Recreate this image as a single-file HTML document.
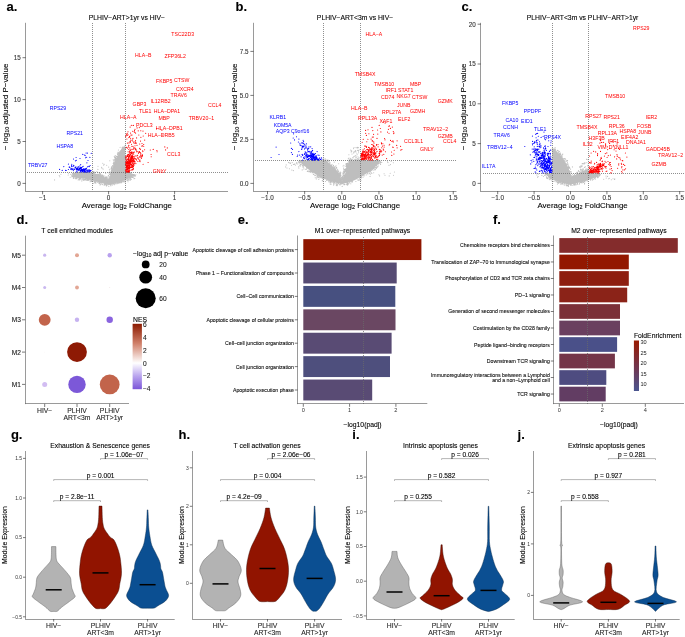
<!DOCTYPE html><html><head><meta charset="utf-8"><style>html,body{margin:0;padding:0;background:#fff;}svg{display:block;} text{stroke-width:0.1px;} svg{font-family:"Liberation Sans",sans-serif;will-change:transform;}</style></head><body><svg width="685" height="637" viewBox="0 0 685 637" font-family="Liberation Sans, sans-serif">
<rect width="685" height="637" fill="#fff"/>
<path d="M108.5 184.0 L110.0 178.0 L110.7 172.0 L113.0 167.0 L115.5 160.0 L118.0 155.0 L121.0 150.0 L123.0 147.5 L125.1 146.5 L125.1 172.5 L130.0 173.0 L134.0 175.0 L131.0 177.5 L125.0 180.0 L118.0 182.5 L110.0 184.5Z" fill="#bebebe"/>
<path d="M120.5 153.3h0M109.2 176.4h0M109.7 178.1h0M125.3 148.6h0M113.2 159.8h0M122.9 166.7h0M110.2 178.6h0M112.6 169.9h0M127.5 180.4h0M124.2 172.5h0M110.7 177.8h0M127.8 173.2h0M124.3 166.2h0M128.8 177.6h0M123.1 164.5h0M132.6 177.4h0M109.3 172.7h0M112.0 168.6h0M120.5 182.8h0M124.1 166.4h0M125.7 179.8h0M128.3 173.3h0M127.0 172.4h0M116.5 156.7h0M108.5 181.8h0M112.3 172.5h0M111.3 171.7h0M122.4 181.8h0M122.0 182.0h0M123.6 147.4h0M112.5 169.3h0M114.0 160.7h0M117.6 157.8h0M120.1 147.2h0M128.2 172.8h0M130.1 173.5h0M131.7 176.5h0M124.0 147.1h0M114.9 163.8h0M110.4 178.6h0M110.4 173.7h0M120.8 181.0h0M115.6 159.6h0M112.8 168.8h0M124.7 153.4h0M110.1 174.1h0M125.8 179.9h0M112.9 183.5h0M111.7 183.2h0M116.1 158.4h0M129.5 177.0h0M120.3 153.4h0M111.1 183.1h0M126.7 178.6h0M125.0 159.0h0M109.1 181.9h0M130.8 172.7h0M117.4 183.1h0M122.2 149.3h0M114.4 165.6h0M119.2 181.3h0M132.3 176.0h0M128.6 179.7h0M110.6 184.8h0M113.8 182.9h0M112.4 172.7h0M129.0 180.3h0M110.0 183.6h0M125.2 162.2h0M110.7 183.2h0M113.4 184.0h0M126.1 180.3h0M118.1 156.3h0M116.0 158.4h0M117.0 183.5h0M115.6 182.8h0M115.3 165.6h0M111.5 166.9h0M124.5 164.0h0M125.2 162.3h0M125.1 164.1h0M129.9 177.3h0M133.1 176.0h0M123.9 168.8h0M128.6 173.3h0M121.7 181.2h0M112.4 170.8h0M110.2 177.0h0M112.1 166.9h0M113.8 167.7h0M115.8 161.7h0M111.6 168.2h0M120.8 151.6h0M133.9 174.5h0M124.7 170.0h0M110.6 181.9h0M110.5 173.5h0M130.5 178.2h0M117.7 160.0h0M125.0 164.0h0M109.6 177.2h0M111.5 176.0h0M130.0 179.6h0M110.8 176.3h0M118.4 150.0h0M117.7 158.2h0M115.9 160.5h0M110.0 179.7h0M118.7 153.0h0M109.0 182.3h0M133.0 174.6h0M125.6 179.8h0M124.2 180.7h0M130.2 172.8h0M125.0 178.5h0M124.9 147.2h0M112.8 171.4h0M116.5 158.8h0M125.5 179.1h0M117.5 156.8h0M119.2 157.1h0M125.2 164.5h0M118.9 153.5h0M122.2 147.5h0M114.0 163.8h0M117.5 158.2h0M110.4 179.9h0M114.2 160.0h0M132.0 174.6h0M120.0 182.1h0M111.0 185.8h0M126.9 172.6h0M118.3 180.8h0M128.1 180.0h0M124.1 178.6h0M128.5 172.2h0M109.9 181.5h0M111.2 172.1h0M124.0 169.3h0M131.8 175.7h0M127.8 173.3h0M116.8 159.1h0M133.7 176.2h0M110.0 184.3h0M124.4 153.2h0M124.8 169.0h0M112.0 170.7h0M118.5 153.9h0M109.8 179.3h0M129.4 172.2h0M124.0 159.0h0M111.3 171.4h0M110.9 184.3h0M125.0 152.3h0M114.3 184.8h0M109.4 169.2h0M111.9 169.4h0M119.7 181.1h0M118.7 182.2h0M107.5 183.7h0M119.1 154.8h0M119.3 152.8h0M133.2 175.5h0M115.5 180.9h0M117.2 156.0h0M107.8 183.5h0M125.1 149.7h0M110.9 172.8h0M115.0 184.0h0M114.3 182.6h0M125.0 161.8h0M132.0 175.3h0M125.0 172.5h0M116.7 183.8h0M120.3 151.9h0M110.8 185.7h0M117.5 153.9h0M113.3 167.7h0M117.4 182.5h0M119.1 182.5h0M111.9 170.2h0M121.3 150.9h0M114.5 157.3h0M132.1 176.4h0M124.5 160.2h0M109.6 180.2h0M109.7 171.0h0M122.5 181.7h0M115.1 159.8h0M114.3 182.1h0M110.6 182.1h0M117.8 182.3h0M106.7 185.4h0M127.6 177.5h0M116.4 159.5h0M124.1 157.2h0M131.5 172.9h0M124.8 152.4h0M130.4 180.1h0M124.9 172.8h0M115.1 157.6h0M111.8 173.0h0M124.6 166.2h0M119.5 181.8h0M117.4 158.9h0M120.0 153.8h0M127.2 173.2h0M127.8 172.4h0M108.8 181.4h0M129.3 174.6h0M133.1 175.1h0M110.8 185.8h0M115.5 162.5h0M119.3 154.4h0M113.8 166.2h0M127.5 172.5h0M125.1 149.4h0M112.2 169.7h0M135.9 174.8h0M120.9 153.8h0M134.7 175.9h0M122.4 148.1h0M113.8 166.9h0M121.7 149.6h0M112.4 184.9h0M126.9 178.5h0M108.8 179.1h0M117.0 183.7h0M120.0 182.4h0M127.4 178.7h0M111.5 181.3h0M116.3 156.2h0M120.2 153.3h0M125.0 170.9h0M119.3 152.9h0M133.7 175.5h0M115.0 183.5h0M123.8 148.2h0M128.1 176.8h0M130.4 176.9h0M118.3 153.9h0M110.8 177.5h0M116.1 159.3h0M123.8 165.0h0M121.1 181.6h0M111.3 176.0h0M130.8 174.0h0M124.0 147.2h0M134.0 174.5h0M111.4 170.8h0M124.0 165.2h0M114.1 164.7h0M113.3 167.6h0M117.4 153.8h0M125.3 159.6h0M126.2 172.5h0M118.0 182.9h0M111.8 174.2h0M121.3 181.3h0M131.1 177.5h0M124.6 166.6h0M122.8 148.8h0M115.1 157.7h0M115.1 163.6h0M128.7 173.6h0M114.6 162.3h0M110.9 178.1h0M124.8 161.9h0M112.4 166.5h0M116.7 158.2h0M118.2 152.8h0M122.6 150.2h0M116.4 163.6h0M119.8 181.8h0M107.5 182.0h0M118.9 183.3h0M122.0 148.1h0M115.3 155.6h0M108.8 172.9h0M112.0 184.5h0M115.4 183.3h0M110.7 178.1h0M116.9 181.1h0M112.8 167.1h0M113.7 166.6h0M124.7 159.2h0M115.5 157.2h0M108.0 179.2h0M109.7 179.7h0M123.8 167.0h0M117.6 154.4h0M124.5 148.3h0M125.3 157.6h0M129.8 177.9h0M110.1 173.8h0M123.5 147.4h0M124.5 180.7h0M128.0 181.8h0M113.4 165.1h0M109.1 178.7h0M113.2 167.5h0M127.7 180.1h0M116.8 183.6h0M125.0 157.9h0M114.7 167.7h0M128.9 172.5h0M130.9 178.8h0M123.8 172.9h0M123.3 161.8h0M112.0 173.2h0M124.7 146.0h0M108.6 183.9h0M131.2 177.1h0M135.2 176.0h0M114.3 156.4h0M124.7 165.3h0M109.1 183.9h0M124.0 169.7h0M119.6 182.6h0M125.7 172.6h0M122.2 150.0h0M113.8 160.8h0M113.5 162.7h0M112.2 169.9h0M113.3 169.6h0M121.7 180.3h0M118.1 157.8h0M124.3 164.7h0M116.2 159.0h0M124.5 160.7h0M110.0 177.9h0M113.2 163.2h0M125.3 171.3h0M118.8 153.8h0M120.0 180.3h0M109.6 182.0h0M125.0 152.2h0M115.6 161.8h0M108.6 181.5h0M115.7 157.1h0M128.8 178.0h0M121.4 181.6h0M115.3 157.9h0M132.3 177.4h0M120.1 153.9h0M124.6 169.3h0M108.7 184.7h0M131.0 172.3h0M132.1 174.1h0M114.2 162.4h0M117.7 182.8h0M111.4 172.6h0M112.1 169.6h0M135.2 175.5h0M122.8 147.0h0M121.4 182.8h0M117.6 182.5h0M114.5 163.5h0M124.4 179.1h0M125.5 179.0h0M111.9 174.7h0M113.8 164.3h0M109.0 182.7h0M131.4 174.7h0M110.2 183.9h0M125.2 149.4h0M130.3 173.3h0M123.9 181.9h0M113.7 166.8h0M132.1 176.7h0M123.3 156.1h0M112.6 165.5h0M125.2 182.2h0M117.9 157.3h0M110.6 174.2h0M129.1 177.3h0M123.4 147.9h0M110.5 175.0h0M114.2 165.4h0M123.6 158.5h0M114.1 160.9h0M132.6 174.7h0M120.8 150.5h0M123.4 178.9h0M111.4 167.5h0M120.2 182.4h0M117.9 152.3h0M112.8 169.0h0M119.3 151.8h0M120.9 154.3h0M135.3 176.1h0M108.4 175.4h0M128.9 177.3h0M113.7 163.9h0M114.1 163.4h0M125.4 145.1h0M124.3 156.2h0M111.0 168.9h0M134.6 174.7h0M125.1 163.7h0M114.8 159.0h0M130.4 175.6h0M118.8 152.8h0M125.1 171.7h0M124.4 151.6h0M128.6 172.5h0M125.4 155.9h0M114.1 183.3h0M123.6 164.4h0M123.9 156.8h0M123.0 160.6h0M114.1 162.0h0M134.0 178.7h0M122.3 149.7h0M124.8 147.7h0M117.0 159.2h0M113.9 183.2h0M127.8 179.0h0M111.6 169.0h0M123.8 171.3h0M115.9 161.1h0M124.8 154.8h0M111.6 170.3h0M123.4 181.5h0M115.6 158.9h0M108.4 182.9h0M115.4 160.5h0M124.1 148.3h0M123.7 148.0h0M111.0 176.3h0M131.2 179.4h0M125.3 171.0h0M113.0 183.0h0M111.0 174.1h0M130.5 178.1h0M118.4 181.8h0M118.2 180.9h0M125.2 181.6h0M125.0 159.1h0M119.6 181.4h0M116.1 161.4h0M109.4 178.2h0M123.9 156.1h0M124.2 181.0h0M123.7 153.0h0M123.8 180.9h0" stroke="#bebebe" stroke-width="1.1" stroke-linecap="round" fill="none" opacity="1.0"/>
<path d="M108.5 184.5 L100.0 182.5 L92.0 180.0 L84.0 178.5 L76.0 177.5 L72.0 176.5 L73.0 174.0 L78.0 172.8 L92.0 172.8 L100.0 175.0 L106.0 178.0 L109.0 180.0Z" fill="#bebebe"/>
<path d="M110.1 181.9h0M86.5 173.0h0M89.8 172.4h0M107.5 182.9h0M107.3 178.2h0M83.2 174.5h0M77.9 178.1h0M96.3 175.0h0M72.8 176.5h0M85.6 177.8h0M74.2 174.9h0M107.7 181.0h0M81.7 179.0h0M104.9 181.7h0M78.5 173.1h0M108.8 186.5h0M105.5 177.5h0M89.2 174.2h0M72.1 175.8h0M95.8 181.0h0M106.3 177.8h0M100.5 173.8h0M87.6 180.2h0M81.7 179.0h0M109.5 179.9h0M106.7 185.0h0M81.1 172.3h0M106.4 185.1h0M109.6 179.5h0M76.5 178.2h0M91.7 180.1h0M107.9 183.9h0M110.5 182.8h0M99.8 182.1h0M89.1 178.8h0M104.7 182.0h0M102.6 175.9h0M108.1 182.0h0M92.0 172.8h0M86.5 172.4h0M83.5 177.9h0M102.7 176.5h0M78.0 177.4h0M89.6 174.2h0M78.5 176.8h0M73.6 178.4h0M109.3 178.7h0M87.6 179.7h0M84.5 172.5h0M81.9 173.8h0M103.9 178.6h0M86.7 178.9h0M73.0 176.2h0M106.8 178.0h0M100.2 173.9h0M87.7 177.5h0M89.9 172.3h0M100.0 182.3h0M92.6 177.9h0M88.7 178.7h0M72.5 176.4h0M94.8 172.4h0M102.1 181.2h0M88.1 178.6h0M103.7 177.2h0M81.5 173.4h0M93.8 179.8h0M78.3 173.5h0M99.9 182.4h0M79.6 178.7h0M98.2 175.4h0M80.6 178.1h0M107.8 183.7h0M72.3 173.7h0M94.6 175.2h0M96.9 171.5h0M88.9 179.5h0M94.4 180.8h0M109.3 180.0h0M81.6 173.1h0M108.8 182.5h0M87.0 172.4h0M76.4 177.8h0M109.5 181.7h0M105.4 184.7h0M107.7 177.0h0M105.1 182.1h0M86.4 172.8h0M97.0 179.2h0M88.1 174.1h0M95.8 174.2h0M88.8 180.1h0M95.1 181.5h0M90.2 172.9h0M95.2 180.8h0M92.8 179.0h0M105.8 178.4h0M102.5 181.8h0M83.6 173.1h0M98.8 175.3h0M97.2 181.9h0M91.0 172.6h0M103.6 177.9h0M95.8 183.2h0M82.3 179.2h0M83.5 178.1h0M110.7 183.5h0M88.1 173.9h0M85.6 179.5h0M82.8 177.7h0M108.3 179.6h0M107.1 178.4h0M85.2 178.7h0M98.7 175.2h0M108.9 183.4h0M91.7 181.4h0M90.6 179.6h0M94.4 179.1h0M93.2 180.5h0M82.1 172.8h0M90.9 179.0h0M98.8 174.5h0M103.1 182.2h0M93.9 173.5h0M82.7 176.5h0M75.7 174.1h0M73.2 174.2h0M94.2 179.7h0M94.5 182.1h0M107.0 184.3h0M76.4 174.5h0M100.3 174.3h0M90.1 173.9h0M105.3 181.6h0M72.4 173.7h0M79.6 173.4h0M90.9 180.2h0M88.6 179.1h0M100.6 182.1h0M106.0 183.4h0M75.7 172.9h0M103.6 176.5h0M97.5 182.1h0M86.9 179.6h0M95.9 180.7h0M95.3 180.8h0M96.5 179.0h0M75.6 178.6h0M74.2 174.7h0M96.2 174.7h0M79.1 179.3h0M100.3 173.7h0M103.2 176.4h0M109.6 180.7h0M73.9 176.4h0M77.5 173.6h0M75.0 173.7h0M109.2 179.7h0M106.2 177.7h0M86.9 178.4h0M78.7 172.3h0M87.5 179.2h0M108.7 181.3h0M87.1 173.7h0M108.1 180.8h0M71.8 175.5h0M99.2 182.7h0M75.6 178.2h0M99.6 182.3h0M92.2 179.1h0M83.7 179.2h0M74.1 174.4h0M106.4 185.9h0M88.4 179.1h0M86.6 178.8h0M96.4 174.3h0M103.5 177.0h0M75.8 178.3h0M100.1 184.9h0M94.1 174.0h0M79.6 176.8h0M102.7 175.0h0M93.5 171.5h0M73.0 173.4h0M108.3 180.1h0M108.3 183.1h0M75.1 173.5h0M75.3 175.2h0M82.0 173.6h0M72.0 175.4h0M76.2 177.3h0M83.2 176.4h0M73.4 174.0h0M85.0 179.6h0M82.6 174.0h0M83.6 176.7h0M109.2 182.1h0M106.9 178.4h0M77.0 172.8h0M92.8 173.1h0M73.9 173.2h0M76.4 178.7h0M81.8 177.6h0M76.9 173.8h0M75.1 177.0h0M105.5 177.0h0M70.8 174.4h0M79.2 177.8h0M93.8 183.4h0M100.0 175.2h0M104.8 176.0h0M109.4 183.0h0M95.7 182.4h0M74.7 174.2h0M83.9 172.2h0M108.4 183.8h0M75.6 176.5h0M90.5 172.8h0M100.4 175.1h0M91.6 180.3h0M86.5 178.1h0M107.6 183.8h0M99.7 183.5h0M100.4 182.8h0M99.1 174.8h0M95.4 175.3h0M80.5 178.7h0M101.6 181.9h0M79.6 178.4h0M105.1 182.6h0M107.6 181.7h0M90.8 180.0h0M101.7 178.2h0M99.2 176.2h0M106.4 181.3h0M87.9 180.5h0M90.1 181.7h0M73.1 173.5h0M94.3 181.3h0M108.4 183.4h0M98.3 182.1h0M76.6 177.7h0M100.0 175.8h0M93.1 181.1h0M105.2 183.1h0M96.0 180.8h0M87.2 178.6h0M73.8 175.2h0M94.8 182.5h0M78.9 177.6h0M108.2 180.5h0M73.2 177.7h0M88.8 178.4h0M79.0 179.2h0M92.0 179.6h0M74.3 173.3h0M95.1 174.9h0M79.1 173.7h0M102.5 184.6h0M82.6 177.9h0M78.3 173.7h0M85.6 179.0h0M91.6 180.8h0M84.2 180.1h0M97.9 172.7h0M97.9 182.1h0M74.5 176.0h0M89.2 178.6h0M84.8 173.2h0M106.6 176.9h0M105.8 183.9h0M92.4 181.2h0M104.8 185.1h0M94.9 179.6h0M91.8 173.9h0M89.1 172.8h0M101.2 174.7h0M105.9 182.6h0M104.7 184.1h0M98.3 176.5h0M95.7 174.3h0M76.8 175.7h0M88.1 180.2h0M75.8 176.5h0M94.2 172.0h0M73.6 177.0h0M71.8 176.8h0M98.3 181.7h0M79.2 172.6h0M77.6 173.3h0M79.2 178.3h0M84.7 179.6h0M88.0 173.5h0M73.1 174.2h0M79.7 180.0h0M96.3 181.3h0M98.0 174.4h0M94.3 179.8h0M72.4 174.1h0M99.1 183.2h0M92.9 180.3h0M92.5 179.2h0M98.9 183.3h0M79.6 178.3h0M109.3 184.2h0M101.2 180.2h0M80.1 173.5h0M74.1 178.1h0M109.1 183.6h0M85.8 172.2h0M88.5 179.9h0M106.6 182.1h0M85.4 180.0h0M102.4 175.7h0M98.0 172.8h0M83.1 180.0h0M82.0 179.3h0M79.2 177.2h0M103.9 183.1h0M99.4 172.9h0M107.8 180.0h0M95.5 182.5h0M101.8 182.4h0M73.3 176.6h0M104.7 184.0h0M94.2 172.9h0M102.9 175.3h0M85.2 177.8h0M74.1 178.1h0M95.1 182.1h0M78.8 173.3h0M101.2 183.9h0M110.4 181.1h0M110.1 182.1h0M100.7 175.4h0M82.5 174.0h0M107.5 180.8h0M83.4 180.3h0M106.8 185.4h0M73.8 177.4h0M77.7 177.3h0M75.5 172.8h0M100.2 184.2h0M79.4 174.1h0M89.3 180.0h0M87.2 179.4h0M90.0 179.5h0M74.8 173.3h0M76.7 177.9h0M101.7 176.1h0M97.3 175.6h0M93.7 174.0h0M78.2 179.9h0M79.2 172.3h0M97.2 174.3h0M79.9 178.0h0M91.1 181.4h0M75.3 176.2h0M101.8 176.1h0M104.6 178.3h0M81.3 176.6h0M101.1 175.9h0M94.9 172.7h0M104.6 183.4h0M78.1 172.3h0M107.3 178.4h0M91.3 181.0h0M80.8 172.9h0M99.8 181.8h0M78.0 174.3h0M79.2 179.3h0M109.9 180.4h0M94.4 181.4h0M99.1 174.7h0M99.4 174.1h0M73.7 176.5h0M77.8 176.6h0M102.1 183.7h0M105.2 177.6h0M94.3 181.8h0M79.6 173.4h0M107.2 184.0h0M104.0 184.9h0M105.8 184.8h0M86.6 180.2h0" stroke="#bebebe" stroke-width="1.1" stroke-linecap="round" fill="none" opacity="1.0"/>
<path d="M76.5 177.5h0M99.4 180.6h0M139.3 173.1h0M102.2 179.1h0M129.0 179.1h0M108.4 178.0h0M85.2 175.1h0M122.4 180.0h0M134.7 178.4h0M80.1 179.1h0M117.6 177.0h0M108.6 175.7h0M101.4 176.1h0M59.2 175.6h0M81.8 180.9h0M95.4 175.8h0M74.9 174.7h0M84.0 173.9h0M54.6 179.9h0M93.0 176.5h0M102.9 175.3h0M68.5 173.3h0M79.9 175.3h0M116.5 177.3h0M134.6 175.6h0M133.2 177.6h0M60.9 174.3h0M103.9 180.9h0M84.7 179.2h0M90.8 179.9h0M59.8 176.8h0M131.3 175.1h0M76.1 173.0h0M68.2 175.0h0M114.6 174.6h0M88.4 174.4h0M105.8 179.9h0M109.7 174.4h0M117.1 180.7h0M105.7 173.5h0M123.6 180.0h0M83.3 173.9h0M70.2 177.2h0M129.3 178.0h0M133.4 174.5h0" stroke="#bebebe" stroke-width="1.1" stroke-linecap="round" fill="none" opacity="1.0"/>
<path d="M97.9 169.4h0M103.7 165.1h0M104.2 164.2h0M92.8 167.8h0M98.0 166.2h0M102.8 163.2h0M108.7 167.1h0M109.8 160.7h0M103.1 169.1h0M106.7 165.3h0M101.7 167.4h0M102.0 168.2h0" stroke="#bebebe" stroke-width="1.1" stroke-linecap="round" fill="none" opacity="1.0"/>
<path d="M125.6 165.7h0M125.8 164.3h0M126.7 172.1h0M128.3 165.4h0M125.6 164.2h0M129.3 160.4h0M126.7 165.5h0M129.2 162.0h0M131.4 157.9h0M125.9 170.4h0M128.8 158.9h0M130.0 163.5h0M128.6 165.2h0M126.1 164.4h0M130.0 156.9h0M125.7 162.5h0M133.3 157.0h0M132.3 156.3h0M131.7 157.1h0M129.4 155.5h0M130.1 165.6h0M130.5 167.5h0M129.8 165.9h0M131.8 164.9h0M134.7 158.8h0M127.4 161.4h0M129.8 168.1h0M133.0 160.8h0M134.3 163.6h0M127.4 162.4h0M125.9 147.7h0M128.2 166.7h0M137.0 151.4h0M133.0 149.2h0M133.5 159.7h0M129.8 162.4h0M126.3 167.1h0M128.3 164.0h0M132.9 166.0h0M126.9 166.6h0M126.1 171.6h0M127.4 169.4h0M135.5 142.9h0M131.8 160.1h0M131.5 161.3h0M132.9 162.0h0M133.5 159.5h0M126.7 169.8h0M128.7 172.2h0M128.4 159.4h0M135.9 163.6h0M127.5 155.9h0M129.3 167.2h0M128.7 166.6h0M131.2 157.4h0M127.9 166.8h0M127.2 156.5h0M127.6 171.8h0M127.9 172.3h0M127.6 169.8h0M128.0 165.2h0M131.4 167.4h0M128.0 170.5h0M129.4 165.1h0M126.0 157.4h0M127.9 163.8h0M131.5 153.3h0M126.8 159.7h0M131.9 166.0h0M132.0 165.3h0M133.2 169.3h0M129.5 165.7h0M128.8 157.1h0M126.6 163.3h0M134.1 160.6h0M127.6 164.3h0M127.0 164.0h0M130.4 163.2h0M131.0 160.7h0M125.6 162.1h0M127.2 169.3h0M126.3 165.3h0M125.9 171.5h0M128.2 171.3h0M127.8 167.2h0M132.0 163.9h0M129.7 161.7h0M128.9 169.1h0M127.3 164.0h0M131.2 164.4h0M127.9 167.8h0M126.2 162.7h0M128.3 161.3h0M130.5 153.8h0M128.3 167.7h0M128.2 154.7h0M131.3 156.0h0M126.7 161.1h0M127.7 167.9h0M130.2 162.4h0M133.7 154.1h0M129.2 163.5h0M132.3 155.5h0M132.4 155.3h0M131.8 151.8h0M127.6 162.7h0M129.3 171.5h0M134.7 143.1h0M129.6 167.5h0M129.1 168.8h0M126.9 159.0h0M130.3 160.0h0M126.9 155.7h0M127.2 161.9h0M128.9 165.5h0M126.6 163.9h0M128.6 157.0h0M130.4 159.9h0M132.0 169.4h0M131.0 170.3h0M131.0 158.6h0M126.7 167.4h0M127.6 163.8h0M125.7 169.7h0M128.7 156.8h0M125.6 162.3h0M129.2 168.0h0M127.2 163.4h0M128.2 161.2h0M129.3 163.4h0M133.4 168.5h0M125.9 167.3h0M132.4 155.3h0M133.2 152.3h0M129.3 168.1h0M126.0 170.0h0M128.2 159.8h0M127.2 163.2h0M127.8 167.7h0M131.6 165.3h0M131.5 159.3h0M126.1 167.3h0M127.1 163.8h0M130.1 142.1h0M129.1 156.9h0M129.7 168.5h0M128.2 162.8h0M129.6 162.6h0M132.8 169.8h0M127.1 162.4h0M128.0 164.2h0M126.7 167.2h0M129.2 170.9h0M132.3 167.1h0M133.7 161.4h0M128.5 167.1h0M126.4 169.1h0M131.1 157.2h0M132.6 157.5h0M132.4 159.9h0M128.6 171.1h0M125.7 168.0h0M135.9 158.7h0M127.4 159.2h0M129.3 164.2h0M127.7 163.0h0M131.7 160.2h0M132.1 161.9h0M131.1 164.2h0M129.5 165.2h0M133.5 166.6h0M133.7 147.8h0M132.7 165.6h0M130.5 163.1h0M130.5 158.6h0M125.7 172.3h0M127.8 163.3h0M125.5 170.7h0M126.7 166.4h0M131.5 166.8h0M128.4 163.8h0M126.3 162.6h0M125.9 162.0h0M127.9 165.0h0M128.9 158.3h0M127.6 168.9h0M132.3 166.8h0M125.9 167.5h0M128.4 168.7h0M130.1 164.8h0M131.6 152.4h0M132.3 163.6h0M126.1 157.2h0M133.1 156.4h0M128.3 169.0h0M130.1 154.5h0M126.3 165.7h0M128.3 154.8h0M125.5 157.9h0M127.4 161.1h0M129.6 156.6h0M128.4 162.3h0M130.7 152.5h0M132.9 167.7h0M129.7 165.9h0M126.8 171.6h0M129.8 152.1h0M127.7 168.9h0M129.3 172.4h0M125.7 157.8h0M130.4 157.1h0M129.0 162.3h0M126.1 162.2h0M128.6 169.2h0M130.4 161.1h0M133.0 158.3h0M133.0 152.5h0M130.5 164.1h0M129.1 158.8h0M134.1 165.0h0M129.4 157.0h0M129.1 161.0h0M127.0 163.4h0M127.7 166.2h0M136.0 159.3h0M130.3 166.8h0M132.1 158.7h0M127.0 159.3h0M127.9 156.3h0M132.3 156.9h0M128.2 158.0h0M133.5 152.8h0M127.8 155.6h0M127.1 165.8h0M128.6 168.3h0M130.6 150.0h0M132.4 160.5h0M126.8 168.0h0M125.7 164.9h0M130.4 154.8h0M129.2 167.2h0M126.0 163.4h0M132.0 160.8h0M127.6 162.4h0M126.1 165.9h0M128.3 167.2h0M129.7 169.0h0M131.9 146.3h0M130.7 164.1h0M128.5 161.0h0M129.4 170.3h0M130.4 161.7h0M127.7 172.4h0M129.0 160.0h0M134.8 162.8h0M128.7 168.2h0M125.7 165.3h0M125.6 172.1h0M127.1 165.5h0M126.0 160.5h0M129.6 167.1h0M131.8 157.6h0M130.7 161.4h0M125.5 164.1h0M129.5 153.7h0M128.9 170.8h0M126.2 162.9h0M134.6 161.3h0M131.0 161.8h0M131.0 159.0h0M132.3 169.7h0M133.0 160.3h0M128.1 151.8h0M133.2 158.7h0M128.7 166.7h0M129.4 167.3h0M129.1 165.8h0M126.1 163.0h0M126.5 166.6h0M126.8 161.8h0M131.0 155.2h0M130.6 162.5h0M131.1 158.5h0M133.0 152.4h0M130.2 162.1h0M129.5 171.7h0M133.3 164.6h0M133.9 163.7h0M125.7 161.7h0M132.4 153.2h0M130.9 157.2h0M127.5 168.6h0M133.8 165.2h0M131.6 152.1h0M129.1 159.2h0M128.6 163.0h0M126.8 170.1h0M128.5 169.1h0M127.6 171.5h0M133.2 162.9h0" stroke="#ff0000" stroke-width="1.15" stroke-linecap="round" fill="none" opacity="1.0"/>
<path d="M136.0 142.9h0M129.5 151.9h0M129.5 137.0h0M136.9 151.8h0M140.3 152.5h0M126.7 135.0h0M125.7 157.4h0M140.3 149.4h0M130.8 140.1h0M128.8 149.5h0M126.3 134.0h0M132.7 158.6h0M142.0 143.5h0M128.6 154.4h0M135.1 161.7h0M135.2 155.9h0M128.0 131.7h0M137.0 145.3h0M129.7 136.6h0M125.8 158.9h0M140.0 160.1h0M140.5 141.1h0M142.1 156.6h0M129.8 147.9h0M142.5 154.7h0M143.7 146.2h0M126.9 139.0h0M138.3 158.1h0M135.4 149.7h0M129.6 136.3h0M127.5 148.1h0M128.0 134.8h0M134.8 147.9h0M138.5 152.0h0M134.5 130.3h0M135.1 141.6h0M139.3 152.3h0M130.3 150.1h0M139.7 144.0h0M128.3 158.9h0M130.3 161.6h0M130.1 141.3h0M141.6 156.0h0M138.5 153.2h0M130.4 159.6h0M129.9 150.8h0M144.6 149.7h0M129.3 155.4h0M128.8 145.4h0M127.6 154.8h0M125.4 156.9h0M136.9 155.9h0M135.8 149.1h0M137.6 155.2h0M136.6 137.9h0M142.5 155.6h0M134.8 132.2h0M138.8 135.0h0M134.2 131.8h0M132.7 131.2h0M140.4 156.9h0M133.0 138.3h0M137.9 161.3h0M139.7 148.4h0M136.1 143.5h0M133.8 148.8h0M138.8 159.2h0M140.5 155.1h0M139.4 156.9h0M134.3 157.9h0M129.1 160.1h0M134.5 152.0h0M130.6 138.2h0M132.6 139.0h0M127.4 143.1h0M140.9 137.3h0M130.5 142.0h0M125.8 135.8h0M132.2 154.2h0M141.4 158.3h0M141.8 146.1h0M127.6 156.1h0M131.9 149.3h0M133.0 146.3h0M136.3 150.1h0M136.5 159.9h0M133.8 159.1h0M139.6 160.9h0M127.2 135.2h0M131.3 158.8h0M125.7 136.8h0M140.1 161.6h0M129.0 142.9h0M139.5 151.5h0M140.8 153.6h0" stroke="#ff0000" stroke-width="1.15" stroke-linecap="round" fill="none" opacity="1.0"/>
<path d="M132.0 135.0h0M126.1 156.9h0M131.0 135.1h0M151.1 154.5h0M141.1 155.1h0M141.3 157.1h0M133.5 125.2h0M135.0 129.2h0M128.4 146.9h0M151.2 156.7h0M132.7 160.9h0M130.1 127.1h0M133.5 142.7h0M143.7 144.5h0M148.1 162.5h0M143.2 136.0h0M142.9 151.6h0M143.0 131.1h0M142.7 150.8h0M131.3 125.3h0M125.8 165.1h0M128.9 170.6h0M135.1 158.5h0M129.1 161.8h0M132.1 140.5h0M139.3 127.6h0M132.0 162.2h0M133.0 141.2h0M145.7 133.3h0M130.6 133.1h0M135.6 140.5h0M142.5 145.8h0M143.1 164.2h0M137.1 127.9h0M137.6 157.9h0M138.2 130.8h0M131.5 144.2h0M135.0 145.7h0M150.3 150.0h0M127.3 133.2h0" stroke="#ff0000" stroke-width="1.15" stroke-linecap="round" fill="none" opacity="1.0"/>
<path d="M157.1 151.7h0M162.5 170.7h0M161.9 130.2h0M165.6 149.9h0M135.6 133.1h0M162.2 135.1h0M128.9 137.6h0M164.8 146.9h0M156.6 128.5h0M144.7 140.1h0M134.1 156.5h0M140.8 130.7h0M167.3 147.9h0M133.1 125.5h0M153.2 149.4h0M126.4 147.3h0M156.9 150.5h0M135.4 148.7h0" stroke="#ff0000" stroke-width="1.15" stroke-linecap="round" fill="none" opacity="1.0"/>
<path d="M78.1 166.9h0M74.5 169.5h0M80.4 171.3h0M81.1 170.8h0M83.8 168.5h0M82.3 170.9h0M84.3 170.5h0M87.8 171.5h0M81.4 167.5h0M69.3 166.9h0M84.2 168.9h0M82.1 171.4h0M77.5 169.3h0M83.2 166.2h0M87.7 170.2h0M90.2 170.3h0M78.5 169.3h0M78.9 166.8h0M75.9 168.8h0M85.3 169.3h0M81.7 169.3h0M73.6 165.2h0M82.7 169.8h0M82.8 171.0h0M84.4 169.9h0M79.6 170.1h0M78.3 170.1h0M71.5 166.5h0M83.6 170.6h0M86.1 170.0h0M71.9 168.6h0M77.2 171.8h0M81.2 169.3h0M80.4 170.2h0M73.0 166.4h0M84.4 169.3h0M75.5 167.5h0M77.4 169.1h0M73.6 169.1h0M84.2 169.1h0M80.3 170.3h0M80.6 170.8h0M81.6 169.4h0M83.7 169.5h0M81.2 170.0h0M90.2 171.4h0M77.4 168.1h0M76.6 169.8h0M91.1 170.5h0M88.2 171.5h0M85.7 171.3h0M86.0 172.3h0M81.6 167.5h0M86.3 170.2h0M80.3 172.1h0M76.3 171.8h0M76.8 168.9h0M84.0 170.8h0M80.5 167.6h0M79.9 169.8h0M86.1 168.6h0M83.3 170.7h0M74.0 165.7h0M80.9 170.3h0M88.8 170.3h0M87.7 170.1h0M89.4 172.0h0M82.1 170.1h0M83.2 170.0h0M86.1 168.3h0M88.6 172.0h0M77.0 170.1h0M81.1 169.8h0M77.9 168.0h0M81.5 167.7h0M84.4 170.2h0M82.0 169.5h0M87.0 172.0h0M85.3 169.4h0M74.7 168.0h0M83.9 169.4h0M83.3 169.3h0M82.3 169.4h0M82.7 172.0h0M89.1 169.6h0M76.6 168.2h0M82.9 170.3h0M88.1 172.0h0M72.4 169.5h0M88.6 171.8h0M79.4 168.3h0M83.8 171.7h0M79.0 168.9h0M89.3 172.1h0M87.9 170.0h0M89.6 170.9h0M70.9 169.4h0M86.5 172.1h0M84.9 170.6h0M70.7 168.0h0M80.0 168.4h0M75.2 167.5h0M79.3 168.8h0M71.6 165.3h0M79.7 169.3h0M83.9 171.8h0M82.7 170.1h0M80.9 168.3h0M82.4 171.4h0M80.2 167.3h0M89.8 171.6h0M81.4 169.3h0M81.4 170.4h0M85.8 168.5h0M73.3 170.6h0M84.6 171.9h0M80.0 165.7h0M75.9 166.9h0M87.3 170.6h0M85.2 169.2h0" stroke="#0000ff" stroke-width="1.15" stroke-linecap="round" fill="none" opacity="1.0"/>
<path d="M91.2 153.3h0M86.6 157.2h0M63.8 166.6h0M72.0 168.3h0M86.9 162.8h0M78.3 170.1h0M89.9 157.3h0M86.4 168.3h0M65.6 170.3h0M71.8 164.2h0M87.7 166.8h0M66.2 170.5h0M84.9 172.1h0M82.4 166.8h0M85.2 155.6h0M80.0 158.5h0M86.1 153.0h0M76.1 157.5h0M85.5 157.7h0M86.3 168.9h0M87.4 153.1h0M89.4 166.6h0M80.7 164.5h0M59.6 169.4h0M76.4 160.2h0M69.4 167.5h0M84.2 169.4h0M84.7 155.1h0M82.8 154.4h0M73.5 159.0h0M84.9 171.3h0M68.4 164.1h0M88.0 160.5h0M88.1 166.4h0M68.4 169.5h0M77.7 168.5h0M75.4 160.8h0M71.9 169.6h0M90.1 165.5h0M62.2 170.4h0" stroke="#0000ff" stroke-width="1.15" stroke-linecap="round" fill="none" opacity="1.0"/>
<line x1="92.5" y1="23" x2="92.5" y2="191.10" stroke="#6a6a6a" stroke-width="0.75" stroke-dasharray="1 1"/>
<line x1="125.5" y1="23" x2="125.5" y2="191.10" stroke="#6a6a6a" stroke-width="0.75" stroke-dasharray="1 1"/>
<line x1="27" y1="172.5" x2="228.00" y2="172.5" stroke="#6a6a6a" stroke-width="0.75" stroke-dasharray="1 1"/>
<text x="171.30" y="35.50" font-size="5.2" text-anchor="start" fill="#ff0000" >TSC22D3</text>
<text x="135.00" y="56.60" font-size="5.2" text-anchor="start" fill="#ff0000" >HLA−B</text>
<text x="164.50" y="58.30" font-size="5.2" text-anchor="start" fill="#ff0000" >ZFP36L2</text>
<text x="156.00" y="82.50" font-size="5.2" text-anchor="start" fill="#ff0000" >FKBP5</text>
<text x="174.00" y="81.90" font-size="5.2" text-anchor="start" fill="#ff0000" >CTSW</text>
<text x="176.00" y="90.90" font-size="5.2" text-anchor="start" fill="#ff0000" >CXCR4</text>
<text x="170.60" y="97.30" font-size="5.2" text-anchor="start" fill="#ff0000" >TRAV6</text>
<text x="208.00" y="107.30" font-size="5.2" text-anchor="start" fill="#ff0000" >CCL4</text>
<text x="132.60" y="105.90" font-size="5.2" text-anchor="start" fill="#ff0000" >GBP3</text>
<text x="150.40" y="102.60" font-size="5.2" text-anchor="start" fill="#ff0000" >IL12RB2</text>
<text x="139.00" y="112.70" font-size="5.2" text-anchor="start" fill="#ff0000" >TLE1</text>
<text x="153.80" y="112.70" font-size="5.2" text-anchor="start" fill="#ff0000" >HLA−DPA1</text>
<text x="120.00" y="119.40" font-size="5.2" text-anchor="start" fill="#ff0000" >HLA−A</text>
<text x="158.50" y="119.90" font-size="5.2" text-anchor="start" fill="#ff0000" >MBP</text>
<text x="188.70" y="120.10" font-size="5.2" text-anchor="start" fill="#ff0000" >TRBV20−1</text>
<text x="136.00" y="126.90" font-size="5.2" text-anchor="start" fill="#ff0000" >PDCL3</text>
<text x="156.00" y="130.20" font-size="5.2" text-anchor="start" fill="#ff0000" >HLA−DPB1</text>
<text x="147.70" y="136.90" font-size="5.2" text-anchor="start" fill="#ff0000" >HLA−DRB5</text>
<text x="167.00" y="156.40" font-size="5.2" text-anchor="start" fill="#ff0000" >CCL3</text>
<text x="152.80" y="172.50" font-size="5.2" text-anchor="start" fill="#ff0000" >GNLY</text>
<text x="49.70" y="109.90" font-size="5.2" text-anchor="start" fill="#0000ff" >RPS29</text>
<text x="66.50" y="134.90" font-size="5.2" text-anchor="start" fill="#0000ff" >RPS21</text>
<text x="56.40" y="148.30" font-size="5.2" text-anchor="start" fill="#0000ff" >HSPA8</text>
<text x="27.90" y="167.10" font-size="5.2" text-anchor="start" fill="#0000ff" >TRBV27</text>
<line x1="25.50" y1="22.80" x2="25.50" y2="191.40" stroke="#555555" stroke-width="0.6" />
<line x1="25.20" y1="191.50" x2="228.00" y2="191.50" stroke="#555555" stroke-width="0.6" />
<line x1="22.50" y1="183.40" x2="25.70" y2="183.40" stroke="#333" stroke-width="0.65" />
<text x="20.70" y="185.70" font-size="6.3" text-anchor="end" fill="#333333" stroke="#333333" >0</text>
<line x1="22.50" y1="141.50" x2="25.70" y2="141.50" stroke="#333" stroke-width="0.65" />
<text x="20.70" y="143.80" font-size="6.3" text-anchor="end" fill="#333333" stroke="#333333" >5</text>
<line x1="22.50" y1="99.60" x2="25.70" y2="99.60" stroke="#333" stroke-width="0.65" />
<text x="20.70" y="101.90" font-size="6.3" text-anchor="end" fill="#333333" stroke="#333333" >10</text>
<line x1="22.50" y1="57.70" x2="25.70" y2="57.70" stroke="#333" stroke-width="0.65" />
<text x="20.70" y="60.00" font-size="6.3" text-anchor="end" fill="#333333" stroke="#333333" >15</text>
<line x1="42.60" y1="191.10" x2="42.60" y2="194.30" stroke="#333" stroke-width="0.65" />
<text x="42.60" y="199.70" font-size="6.3" text-anchor="middle" fill="#333333" stroke="#333333" >−1</text>
<line x1="108.60" y1="191.10" x2="108.60" y2="194.30" stroke="#333" stroke-width="0.65" />
<text x="108.60" y="199.70" font-size="6.3" text-anchor="middle" fill="#333333" stroke="#333333" >0</text>
<line x1="174.60" y1="191.10" x2="174.60" y2="194.30" stroke="#333" stroke-width="0.65" />
<text x="174.60" y="199.70" font-size="6.3" text-anchor="middle" fill="#333333" stroke="#333333" >1</text>
<text x="126.85" y="20.10" font-size="6.8" text-anchor="middle" fill="#000" stroke="#000" >PLHIV−ART&gt;1yr vs HIV−</text>
<text x="126.85" y="207.9" font-size="7.9" text-anchor="middle" fill="#000" stroke="#000">Average log<tspan font-size="5.4" dy="1.1">2</tspan><tspan dy="-1.1"> FoldChange</tspan></text>
<text transform="translate(7.50,106.95) rotate(-90)" font-size="7.9" text-anchor="middle" fill="#000" stroke="#000">− log<tspan font-size="5.5" dy="1.7">10</tspan><tspan dy="-1.7"> adjusted P−value</tspan></text>
<path d="M300.0 160.5 L327.3 160.5 L327.3 162.0 L330.3 164.5 L332.4 166.6 L335.4 168.6 L336.5 170.7 L338.5 172.7 L340.0 174.7 L340.5 177.8 L342.0 180.9 L343.6 175.8 L345.7 172.7 L344.6 169.6 L346.7 167.6 L345.7 165.0 L348.7 163.5 L349.7 161.5 L350.0 160.5 L380.0 160.5 L378.0 164.0 L374.0 168.0 L369.0 172.0 L362.0 176.0 L355.0 180.0 L348.0 182.5 L342.0 184.0 L335.0 182.5 L328.0 180.5 L320.0 177.0 L313.0 172.5 L307.0 168.0 L302.0 164.0Z" fill="#bebebe"/>
<path d="M349.3 182.1h0M346.9 166.7h0M333.7 184.6h0M299.6 162.4h0M352.0 181.0h0M344.0 175.6h0M332.9 167.5h0M360.9 180.4h0M335.2 166.6h0M342.4 183.0h0M311.1 171.3h0M303.0 167.0h0M378.0 166.6h0M331.3 182.7h0M341.4 181.5h0M375.6 160.6h0M300.0 162.2h0M343.8 184.6h0M377.7 162.1h0M314.8 175.0h0M349.1 180.0h0M350.8 183.8h0M313.8 171.9h0M362.2 160.8h0M333.8 181.6h0M346.5 166.9h0M336.7 170.8h0M367.5 173.5h0M339.2 173.1h0M344.3 171.2h0M366.1 161.8h0M335.3 169.1h0M333.3 166.6h0M303.1 166.4h0M357.1 162.1h0M353.0 162.6h0M377.5 167.1h0M346.5 184.0h0M310.5 172.3h0M342.8 173.7h0M347.1 182.7h0M349.6 161.9h0M371.8 168.3h0M306.4 168.1h0M335.7 169.2h0M334.5 182.2h0M368.1 160.5h0M314.9 175.6h0M309.2 169.2h0M344.5 169.6h0M336.2 184.0h0M348.8 162.7h0M379.1 162.9h0M330.4 182.6h0M304.6 160.9h0M333.0 182.5h0M311.5 162.6h0M351.9 180.4h0M378.6 163.6h0M310.1 171.2h0M344.6 182.6h0M371.6 170.2h0M311.6 160.7h0M351.1 180.8h0M331.2 166.3h0M359.3 178.0h0M301.0 164.7h0M341.5 182.6h0M300.3 160.6h0M333.9 168.1h0M347.4 183.6h0M358.1 179.3h0M334.0 181.9h0M317.3 175.2h0M354.7 159.6h0M311.9 171.9h0M330.9 167.9h0M378.8 160.6h0M355.2 159.0h0M344.9 184.4h0M307.5 166.4h0M344.4 171.8h0M315.0 171.2h0M331.3 180.8h0M345.0 169.7h0M370.4 174.1h0M370.7 163.4h0M328.6 161.3h0M312.6 172.3h0M311.4 171.1h0M320.8 161.1h0M318.0 177.7h0M341.2 177.8h0M317.8 160.6h0M337.3 171.3h0M351.6 161.6h0M298.7 161.6h0M331.9 180.2h0M318.8 179.5h0M369.5 162.0h0M327.6 162.1h0M299.1 162.0h0M325.9 159.5h0M340.9 178.0h0M371.2 161.8h0M317.6 174.9h0M347.1 166.3h0M327.6 160.4h0M333.0 167.8h0M332.1 164.3h0M336.3 185.6h0M340.3 172.1h0M303.7 163.3h0M356.4 178.2h0M312.2 172.8h0M377.0 164.8h0M325.8 161.4h0M341.2 181.2h0M340.4 183.4h0M315.2 177.8h0M302.9 165.1h0M302.9 166.8h0M346.2 171.7h0M324.8 162.3h0M378.3 165.0h0M349.3 163.5h0M380.1 161.0h0M346.4 163.6h0M303.9 168.9h0M314.7 160.6h0M336.0 170.8h0M325.4 178.1h0M312.5 170.6h0M351.0 181.6h0M359.7 160.3h0M376.9 166.5h0M312.5 172.2h0M302.9 161.3h0M329.6 182.0h0M343.4 179.0h0M345.9 169.4h0M355.9 181.5h0M303.6 165.2h0M343.2 180.5h0M364.0 175.9h0M299.3 160.3h0M330.1 162.9h0M347.8 163.8h0M327.7 162.6h0M372.8 168.4h0M355.5 160.4h0M311.0 160.9h0M342.2 186.4h0M341.6 177.7h0M349.5 162.4h0M337.8 171.2h0M360.9 160.4h0M370.3 171.6h0M316.4 161.0h0M361.3 176.3h0M329.0 164.8h0M313.0 171.4h0M331.7 165.4h0M323.9 178.3h0M367.9 174.0h0M348.0 169.3h0M349.1 181.8h0M356.9 178.7h0M318.7 160.4h0M338.3 173.9h0M346.0 170.0h0M337.4 174.5h0M359.7 160.9h0M381.8 162.3h0M318.8 160.5h0M334.8 167.5h0M331.0 184.5h0M329.9 181.4h0M371.6 161.9h0M350.5 178.8h0M322.8 160.9h0M373.2 167.3h0M352.6 181.9h0M344.2 178.0h0M302.5 161.6h0M320.7 176.9h0M319.7 176.3h0M349.7 161.2h0M307.0 162.6h0M299.2 163.7h0M337.4 181.5h0M301.8 162.9h0M376.5 167.5h0M369.4 161.6h0M341.3 178.1h0M356.5 159.8h0M379.6 162.7h0M352.7 179.4h0M342.1 177.6h0M349.0 163.5h0M352.1 179.9h0M347.5 184.1h0M346.4 165.6h0M342.4 183.0h0M340.5 173.4h0M356.2 177.1h0M343.7 179.5h0M360.8 177.5h0M339.5 175.0h0M334.2 180.8h0M348.6 164.8h0M352.8 180.0h0M319.4 177.8h0M346.1 171.4h0M329.3 167.0h0M322.2 180.7h0M315.9 175.2h0M338.4 183.8h0M313.3 174.0h0M371.5 170.3h0M351.0 160.6h0M349.1 161.7h0M356.3 178.3h0M344.9 177.5h0M313.6 174.5h0M374.5 167.6h0M343.7 168.0h0M376.2 161.1h0M344.4 172.7h0M317.5 176.1h0M340.9 175.9h0M372.5 169.2h0M334.6 181.3h0M334.4 183.7h0M310.4 161.1h0M367.0 170.9h0M376.6 164.9h0M321.2 162.7h0M361.9 160.5h0M365.8 160.6h0M320.1 161.2h0M358.7 160.4h0M349.1 180.4h0M330.0 165.6h0M349.6 162.2h0M318.1 177.2h0M367.3 172.0h0M343.9 171.3h0M343.8 169.1h0M346.7 164.6h0M359.2 176.0h0M354.6 162.8h0M347.6 183.0h0M304.3 164.7h0M372.0 160.6h0M330.8 164.7h0M341.2 179.5h0M369.4 173.6h0M344.6 171.3h0M344.9 171.1h0M368.3 170.9h0M336.7 174.2h0M375.9 164.9h0M363.0 177.3h0M347.5 185.1h0M333.5 165.4h0M327.0 178.8h0M322.4 180.4h0M347.8 167.7h0M315.1 161.3h0M325.2 161.4h0M345.4 176.5h0M321.6 177.0h0M333.7 185.2h0M331.3 180.5h0M369.2 171.6h0M351.0 181.1h0M365.6 163.6h0M343.0 175.0h0M340.2 176.9h0M339.8 176.8h0M347.1 163.4h0M318.6 177.2h0M345.8 164.0h0M353.6 160.4h0M310.4 172.0h0M336.7 184.7h0M346.2 164.3h0M341.8 177.3h0M348.7 161.5h0M363.1 160.5h0M342.0 177.8h0M370.0 170.3h0M337.3 185.6h0M335.1 180.6h0M359.1 157.7h0M335.8 169.0h0M376.0 161.2h0M320.3 177.8h0M333.0 167.1h0M374.4 160.3h0M310.2 170.6h0M338.5 182.9h0M338.6 171.5h0M348.2 184.2h0M361.4 176.8h0M327.2 162.9h0M310.3 161.0h0M342.4 179.8h0M340.4 179.9h0M349.5 160.9h0M323.2 160.7h0M346.9 170.1h0M338.3 183.0h0M309.0 170.9h0M359.4 161.4h0M326.7 180.4h0M355.5 159.7h0M358.8 176.5h0M374.7 169.0h0M322.3 178.1h0M318.6 175.9h0M364.5 171.8h0M368.1 161.3h0M350.6 180.7h0M362.4 173.6h0M303.4 160.9h0M370.8 170.8h0M358.0 180.2h0M343.2 172.4h0M323.5 160.0h0M311.1 169.9h0M349.3 164.6h0M373.2 160.8h0M377.1 163.7h0M349.1 161.2h0M303.0 167.1h0M325.5 181.5h0M343.2 178.1h0M327.7 163.3h0M309.4 168.7h0M376.4 165.5h0M372.8 168.4h0M311.9 171.7h0M351.3 181.9h0M325.5 160.5h0M328.9 163.8h0M319.0 162.0h0M327.9 159.9h0M341.1 181.3h0M306.2 169.5h0M321.8 177.9h0M352.6 179.1h0M342.1 178.1h0M360.4 162.2h0M344.4 176.0h0M340.9 175.4h0M356.5 159.9h0M305.0 161.4h0M307.8 171.0h0M370.1 176.4h0M363.1 174.2h0M341.0 179.6h0M361.4 177.9h0M362.1 175.5h0M336.3 168.1h0M356.8 161.9h0M344.5 182.1h0M374.6 166.5h0M309.1 167.4h0M298.3 162.3h0M340.2 174.6h0M310.0 166.9h0M342.6 178.6h0M343.8 173.5h0M326.3 177.7h0M332.6 167.3h0M337.2 172.3h0M329.2 162.8h0M323.1 181.1h0M345.0 174.9h0M301.3 161.0h0M301.0 160.3h0M341.7 179.1h0M349.9 180.6h0M339.7 181.1h0M351.8 162.6h0M325.5 160.3h0M351.7 179.6h0M378.5 163.0h0M379.1 163.2h0M334.7 166.8h0M336.4 181.8h0M312.0 169.7h0M346.0 168.8h0M319.8 162.3h0M308.7 168.6h0M309.1 168.0h0M339.6 175.6h0M327.0 161.6h0M350.3 166.8h0M332.9 166.2h0M315.2 160.6h0M366.8 162.2h0M357.2 158.7h0M373.0 170.0h0M370.3 161.6h0M373.8 162.1h0M300.7 162.2h0M302.8 160.7h0M358.8 158.8h0M305.1 164.3h0M375.1 168.2h0M341.5 180.3h0M377.9 163.4h0M355.7 161.8h0M332.9 181.7h0M373.5 167.7h0M344.3 184.7h0M359.0 180.3h0M329.2 180.0h0M373.6 168.4h0M340.3 183.0h0M380.4 161.7h0M309.0 170.7h0M304.3 160.9h0M349.8 182.1h0M352.4 180.9h0M345.2 170.0h0M337.2 182.9h0M333.5 183.3h0M339.0 172.4h0M369.1 172.9h0M306.7 164.1h0M339.3 177.8h0M346.4 165.4h0M377.5 162.0h0M303.6 162.0h0M310.3 171.6h0M349.7 159.6h0M312.7 161.2h0M326.6 162.4h0M375.5 169.7h0M376.5 162.4h0M330.1 183.9h0M331.5 181.5h0M321.0 176.8h0M340.4 181.8h0M328.3 180.0h0M327.9 179.5h0M355.2 177.0h0M375.7 167.2h0M380.6 164.4h0M317.0 177.0h0M359.6 179.8h0M340.0 184.2h0M343.3 175.8h0M330.8 181.7h0M346.5 165.0h0M359.8 178.2h0M360.6 176.4h0M364.4 160.7h0M340.9 175.0h0M334.6 182.4h0M325.1 161.2h0M343.1 176.3h0M344.3 172.0h0M362.9 174.9h0M312.7 170.8h0M376.5 165.4h0M342.8 181.0h0M340.5 184.7h0M299.7 162.3h0M326.9 178.8h0M323.7 158.9h0M310.6 170.2h0M376.2 161.9h0M307.3 171.2h0M328.9 160.6h0M316.3 178.9h0M349.7 161.7h0M341.6 184.0h0M336.4 167.2h0M319.0 160.4h0M347.9 163.1h0M318.4 174.3h0M348.6 164.1h0M300.7 164.2h0M358.3 163.2h0M370.9 169.1h0M340.2 179.9h0M364.2 160.3h0M337.6 171.3h0M346.7 163.5h0M340.4 174.4h0M379.1 161.4h0M351.9 160.1h0M346.5 174.4h0M361.4 176.8h0M372.9 161.0h0M366.2 174.9h0M340.4 175.9h0M328.5 181.8h0M346.6 164.2h0M360.1 177.4h0M336.9 168.0h0M346.4 170.6h0M300.2 161.4h0M336.7 181.8h0M339.7 173.9h0M347.4 184.0h0M376.5 163.6h0M349.8 161.6h0M320.5 176.6h0M350.9 159.4h0M337.4 169.6h0M341.9 183.9h0M339.5 184.8h0M300.0 162.4h0M339.7 182.6h0M346.4 182.0h0M335.4 170.6h0M318.3 162.2h0M375.3 169.6h0M323.8 159.8h0M319.6 162.1h0M344.7 177.5h0M343.2 175.0h0M376.5 168.5h0M306.9 167.1h0M345.2 171.5h0M317.8 174.4h0M348.4 172.7h0M342.7 179.8h0M349.1 164.2h0M339.6 177.8h0M343.2 172.8h0M346.9 184.7h0M333.8 182.0h0M347.2 170.8h0M371.8 173.4h0M319.2 175.7h0M337.8 175.6h0M343.9 165.3h0M334.3 167.5h0M302.5 165.5h0M308.3 161.1h0M327.7 162.8h0M336.0 183.4h0M322.5 178.5h0M337.5 184.2h0M344.0 169.6h0M349.0 166.0h0M333.1 169.0h0M325.2 158.7h0M343.1 183.3h0M307.3 168.1h0M347.9 184.1h0M355.3 160.1h0M307.7 171.4h0M380.2 163.1h0M307.5 168.0h0M347.7 182.4h0M309.4 171.7h0M330.6 181.6h0M311.1 171.5h0M329.4 160.9h0M338.9 173.7h0M358.9 177.1h0M356.0 160.5h0M361.3 162.1h0M323.6 159.8h0M349.0 183.3h0M371.3 160.5h0M318.2 176.9h0M338.5 176.9h0M376.6 165.6h0M377.0 160.4h0M302.8 161.5h0M324.9 160.7h0M308.9 171.7h0M353.3 178.3h0M344.9 172.9h0M375.7 163.2h0M330.0 167.5h0M333.3 181.7h0M338.9 172.8h0M343.0 181.6h0M361.4 174.3h0M325.0 161.1h0M358.6 160.0h0M350.2 161.1h0M303.5 165.2h0M347.9 183.0h0M371.4 170.3h0M342.3 176.7h0M340.3 178.8h0M332.9 182.5h0M340.9 172.8h0M323.7 179.2h0M301.2 161.7h0M329.8 163.3h0M369.4 173.6h0M357.4 163.5h0M348.0 183.3h0M345.3 166.3h0M347.8 184.8h0M305.7 169.2h0M321.0 161.5h0M364.0 175.0h0M324.5 160.2h0M343.4 171.1h0M376.6 162.2h0M342.9 177.7h0M339.3 181.8h0M331.2 165.8h0M337.2 173.1h0M340.3 184.7h0M352.8 157.7h0M359.2 160.0h0M300.4 164.0h0M349.7 161.8h0M316.3 177.0h0M364.6 160.4h0M331.7 168.5h0M380.9 162.5h0M360.8 160.9h0M338.2 170.2h0M345.0 170.3h0M341.7 179.5h0M334.9 180.1h0M361.7 176.6h0M330.7 166.6h0M328.0 180.1h0M342.5 176.7h0" stroke="#bebebe" stroke-width="1.1" stroke-linecap="round" fill="none" opacity="1.0"/>
<path d="M359.8 149.7h0M358.0 147.7h0M355.5 151.2h0M358.6 150.3h0M357.5 160.2h0M355.4 155.9h0M350.7 150.0h0M348.1 160.3h0M352.7 159.5h0M355.2 155.5h0M353.6 148.6h0M358.4 147.6h0M353.7 152.9h0M354.2 156.5h0M358.6 152.8h0M348.9 154.7h0M357.2 147.9h0M350.8 158.3h0M356.0 147.6h0M355.9 157.5h0M355.6 150.6h0M352.0 154.0h0M354.2 151.9h0M357.4 147.3h0M351.3 159.5h0M358.2 159.4h0M356.9 153.8h0M357.2 154.3h0M348.3 158.7h0M351.2 151.9h0M354.0 147.5h0M356.2 157.5h0M357.3 158.8h0M356.9 156.1h0M351.8 151.0h0M349.0 158.1h0M353.0 157.8h0M351.4 150.7h0M353.7 156.8h0M358.5 151.1h0M356.0 151.9h0M358.2 157.0h0M354.2 151.3h0M350.6 158.8h0M357.4 150.4h0" stroke="#bebebe" stroke-width="1.1" stroke-linecap="round" fill="none" opacity="1.0"/>
<path d="M294.3 164.2h0M391.1 161.5h0M374.1 169.9h0M345.9 170.1h0M330.1 170.4h0M296.3 163.2h0M359.0 171.8h0M373.7 172.7h0M387.4 161.7h0M286.2 164.9h0M370.7 163.4h0M343.4 174.1h0M302.2 169.9h0M384.1 173.7h0M328.8 169.0h0M371.1 172.5h0M360.3 168.6h0M363.6 169.2h0M378.5 163.4h0M375.6 167.2h0M394.4 172.0h0M290.0 162.9h0M293.4 170.6h0M320.4 165.3h0M334.2 162.1h0M385.0 175.2h0M346.5 168.4h0M318.9 171.2h0M390.2 173.3h0M375.9 162.1h0M298.6 166.7h0M298.9 168.1h0M393.5 175.2h0M390.5 164.6h0M309.4 161.2h0M315.1 161.8h0M343.1 166.0h0M359.1 170.5h0M350.7 166.0h0M365.8 172.7h0M363.6 168.9h0M336.0 165.7h0M289.4 168.8h0M352.8 164.0h0M379.6 175.9h0M378.9 174.8h0M338.7 163.8h0M393.3 162.7h0M285.7 166.9h0M323.4 171.1h0M321.2 166.1h0M291.9 170.1h0M388.0 162.6h0M312.9 161.2h0M389.1 165.3h0M346.7 167.0h0M389.2 175.9h0M287.0 168.0h0M388.9 165.2h0M325.4 170.8h0" stroke="#bebebe" stroke-width="1.1" stroke-linecap="round" fill="none" opacity="1.0"/>
<path d="M313.0 154.3h0M314.3 158.6h0M310.9 157.4h0M314.4 159.6h0M311.7 156.5h0M302.6 154.9h0M299.7 155.1h0M317.5 159.0h0M309.3 158.3h0M310.3 152.9h0M306.0 155.3h0M315.8 158.7h0M307.2 157.1h0M311.1 155.1h0M317.9 159.9h0M310.4 156.8h0M313.5 158.7h0M314.2 154.1h0M304.5 158.6h0M312.8 157.3h0M312.1 160.1h0M313.8 157.4h0M317.0 157.9h0M312.6 156.6h0M313.7 158.6h0M312.5 155.2h0M307.8 156.4h0M316.2 156.1h0M310.3 155.0h0M314.2 159.5h0M311.6 158.4h0M306.8 154.2h0M305.9 153.6h0M315.3 159.8h0M307.9 154.2h0M312.1 159.6h0M321.9 159.2h0M317.4 160.0h0M311.0 154.9h0M305.6 155.7h0M315.3 156.8h0M313.6 154.5h0M307.2 156.1h0M307.0 156.8h0M311.9 155.4h0M310.9 157.0h0M315.8 156.0h0M304.9 156.8h0M310.8 156.9h0M307.1 155.5h0M306.1 155.3h0M315.4 159.1h0M308.9 158.1h0M307.6 156.6h0M314.7 154.3h0M308.6 156.4h0M319.1 155.2h0M314.6 157.9h0M316.1 155.6h0M311.8 158.1h0M311.5 159.1h0M318.9 159.3h0M301.1 156.8h0M312.1 156.9h0M308.1 159.0h0M316.1 159.6h0M315.5 153.5h0M314.1 157.9h0M316.3 156.7h0M298.9 151.6h0M303.7 157.4h0M307.0 155.9h0M306.3 153.7h0M308.5 159.8h0M312.0 158.3h0M310.5 156.8h0M306.2 159.1h0M317.2 158.7h0M311.0 157.8h0M313.2 157.4h0M307.0 156.2h0M310.6 157.1h0M312.6 158.9h0M315.8 156.5h0M310.9 157.0h0M315.9 157.8h0M306.2 155.8h0M314.5 160.3h0M312.0 159.1h0M321.6 157.9h0M318.0 155.0h0M313.0 160.2h0M319.7 157.7h0M310.8 156.5h0M314.4 156.9h0M304.4 154.4h0M311.2 153.9h0M308.7 159.0h0M312.6 154.8h0M316.9 157.5h0M306.9 152.6h0M311.2 155.6h0M315.0 158.0h0M315.9 155.8h0M313.1 157.5h0M302.7 155.4h0M311.2 156.3h0M312.2 154.3h0M312.3 157.0h0M313.6 157.7h0M313.8 155.7h0M312.9 157.3h0M313.6 156.1h0M316.2 156.4h0M316.6 157.0h0M302.1 154.3h0M312.9 159.9h0M308.8 156.4h0M307.5 157.4h0M310.9 153.3h0M310.5 157.5h0M320.5 159.4h0M309.5 155.4h0M314.7 157.4h0M302.1 154.4h0M303.9 158.6h0M304.5 153.8h0M310.9 155.3h0M310.4 153.0h0M307.5 159.7h0M314.1 155.1h0M314.7 159.2h0M315.1 157.4h0M311.6 158.4h0M310.2 155.5h0M312.6 158.8h0M316.4 158.6h0M313.1 156.4h0M308.4 155.5h0M306.1 157.7h0M309.7 155.9h0M318.7 160.3h0M310.5 156.7h0M304.6 153.7h0M313.2 154.8h0M318.1 159.1h0M307.3 156.8h0M319.7 158.0h0M302.6 160.1h0M311.5 159.7h0M297.7 155.1h0M312.4 158.8h0M318.5 159.8h0M312.6 153.8h0M312.1 154.1h0M319.2 158.9h0M291.4 152.6h0M311.2 158.6h0M306.9 156.8h0M313.9 157.4h0" stroke="#0000ff" stroke-width="1.15" stroke-linecap="round" fill="none" opacity="1.0"/>
<path d="M313.0 155.8h0M307.6 149.3h0M308.1 151.2h0M304.8 144.6h0M311.3 151.6h0M311.0 155.0h0M305.5 148.0h0M308.5 148.7h0M312.2 150.9h0M315.8 159.3h0M303.1 145.8h0M306.1 146.1h0M311.3 152.8h0M299.9 143.2h0M308.9 155.5h0M302.4 147.7h0M293.6 133.8h0M312.6 157.0h0M298.9 139.1h0M313.1 153.4h0M312.1 148.5h0M309.9 151.3h0M302.3 146.4h0M308.7 148.2h0M303.2 146.2h0M306.4 143.8h0M301.8 142.9h0M301.7 149.4h0M304.5 148.9h0M301.1 145.6h0M301.9 148.0h0M300.0 144.9h0M307.1 148.3h0M307.7 150.9h0M303.1 140.2h0M303.9 143.7h0M308.7 151.6h0M310.7 146.8h0M305.2 151.9h0M312.3 159.9h0M298.4 142.0h0M296.5 136.7h0M305.0 145.8h0M303.2 143.1h0M310.4 155.5h0M309.1 152.0h0M305.4 152.3h0M312.6 150.4h0M293.2 138.0h0M303.9 146.8h0M311.7 152.9h0M309.0 146.9h0M303.0 146.8h0M300.3 145.1h0M302.3 142.9h0" stroke="#0000ff" stroke-width="1.15" stroke-linecap="round" fill="none" opacity="1.0"/>
<path d="M306.1 154.2h0M294.5 139.9h0M290.7 143.0h0M306.1 147.3h0M291.4 148.4h0M303.6 141.3h0M317.1 151.6h0M310.3 159.4h0M292.4 154.4h0M292.5 149.3h0M309.8 156.3h0M297.2 156.5h0" stroke="#0000ff" stroke-width="1.15" stroke-linecap="round" fill="none" opacity="1.0"/>
<path d="M271.1 157.5h0M279.0 154.5h0M276.1 147.1h0" stroke="#0000ff" stroke-width="1.15" stroke-linecap="round" fill="none" opacity="1.0"/>
<path d="M305.0 165.2h0M310.4 164.5h0M288.8 162.4h0M306.6 161.4h0M288.5 162.6h0M311.3 164.7h0M304.2 162.5h0M303.7 167.0h0M297.2 163.9h0M306.1 162.1h0M304.2 163.1h0M300.6 165.9h0M295.4 165.1h0M312.1 164.2h0M305.8 162.9h0M293.4 164.5h0M302.6 162.4h0M310.2 164.4h0M296.7 162.6h0M312.6 167.3h0M307.4 163.2h0M299.6 165.7h0M290.3 163.4h0M311.0 165.7h0M304.3 161.5h0M292.2 162.6h0M300.5 164.5h0M294.3 164.1h0M291.5 165.3h0M301.8 164.2h0" stroke="#bebebe" stroke-width="1.1" stroke-linecap="round" fill="none" opacity="1.0"/>
<path d="M375.2 147.0h0M368.7 155.9h0M361.3 154.2h0M374.5 152.3h0M368.8 149.5h0M370.6 154.7h0M372.1 149.4h0M375.3 157.2h0M376.5 145.2h0M374.5 154.0h0M367.2 152.2h0M378.7 155.9h0M366.5 156.3h0M375.8 152.6h0M374.7 149.0h0M368.4 153.9h0M362.7 158.2h0M366.3 159.4h0M365.2 158.1h0M374.0 146.8h0M380.8 151.2h0M364.4 158.5h0M364.5 155.4h0M374.8 150.3h0M371.6 149.9h0M362.7 154.3h0M364.3 154.9h0M373.3 156.7h0M365.0 156.4h0M367.0 158.5h0M366.6 155.2h0M361.3 154.0h0M362.7 159.1h0M364.7 155.7h0M362.5 154.2h0M373.3 152.6h0M389.7 144.2h0M373.1 148.2h0M377.8 156.9h0M364.9 154.1h0M368.6 150.0h0M363.1 149.9h0M369.2 160.0h0M366.0 158.7h0M371.5 148.0h0M368.2 154.4h0M368.4 159.0h0M362.3 155.9h0M378.0 144.6h0M371.8 152.3h0M363.9 158.5h0M366.1 158.7h0M365.3 153.1h0M380.3 150.1h0M367.8 154.4h0M374.9 148.7h0M372.7 144.7h0M366.9 157.2h0M365.4 150.7h0M364.8 156.5h0M381.7 150.9h0M371.0 153.1h0M364.8 156.7h0M376.3 156.8h0M378.1 146.8h0M365.5 146.0h0M362.4 153.7h0M368.6 147.4h0M371.5 157.3h0M366.2 153.1h0M369.2 154.8h0M373.2 153.8h0M383.7 150.1h0M369.7 149.8h0M363.6 159.3h0M373.9 156.2h0M366.7 151.7h0M383.2 149.1h0M379.5 155.4h0M377.0 151.4h0M371.5 156.3h0M369.4 157.2h0M366.0 155.8h0M362.3 155.7h0M371.1 151.8h0M361.4 159.6h0M361.7 155.9h0M363.7 154.9h0M361.8 153.2h0M364.9 158.9h0M370.6 155.7h0M370.0 157.2h0M362.1 156.2h0M370.1 152.4h0M368.6 158.5h0M375.8 156.0h0M361.8 158.4h0M367.4 149.4h0M361.0 156.4h0M373.4 154.5h0M372.2 151.2h0M364.4 156.7h0M364.4 148.7h0M361.9 159.8h0M369.0 157.5h0M361.4 155.1h0M381.4 142.8h0M374.0 143.1h0M367.3 155.3h0M383.8 154.3h0M371.0 148.8h0M364.3 159.7h0M361.5 159.3h0M379.7 154.3h0M372.6 159.3h0M360.9 159.4h0M374.9 153.6h0M369.6 157.6h0M369.8 154.9h0M362.4 154.2h0M374.3 154.9h0M372.2 151.0h0M365.0 157.9h0M371.3 149.1h0M377.8 159.3h0M368.5 151.4h0M368.1 156.9h0M365.3 154.8h0M365.7 157.1h0M371.1 154.0h0M376.4 149.4h0M365.9 157.2h0M373.6 150.3h0M367.7 154.9h0M368.5 150.6h0M370.7 158.8h0M376.0 153.0h0M372.5 160.1h0M374.8 157.6h0M371.6 152.0h0M362.2 155.4h0M373.9 145.9h0M364.6 151.6h0M381.5 143.8h0M366.9 151.5h0M367.7 155.1h0M374.5 151.6h0M379.8 152.8h0M381.0 151.9h0M368.8 157.8h0M363.7 151.4h0M364.8 155.9h0M364.7 152.0h0M366.1 159.0h0M375.4 153.9h0M373.3 145.2h0M374.9 158.3h0M367.1 151.1h0M368.5 153.0h0M363.5 153.7h0M370.9 159.3h0M363.2 154.7h0M360.7 156.1h0M384.1 145.2h0M370.9 152.9h0M371.7 154.5h0M378.0 156.5h0M365.0 157.8h0M371.3 157.2h0M371.4 150.3h0M371.0 160.2h0M374.8 154.8h0M364.5 156.6h0M361.1 159.5h0M363.5 152.2h0M372.8 148.7h0M370.1 157.2h0M374.2 153.3h0M370.7 149.4h0M362.6 151.3h0M377.0 157.6h0M371.7 156.8h0M372.6 140.9h0M384.1 147.1h0M368.1 157.0h0M365.9 154.4h0M366.7 156.1h0M372.9 155.5h0M374.7 153.8h0M368.0 153.3h0M376.5 144.5h0M371.6 157.0h0M369.3 158.0h0M361.3 157.7h0M364.9 151.6h0M367.4 154.3h0M369.2 150.2h0M362.5 157.0h0M362.6 154.9h0M362.4 153.4h0M372.0 156.1h0M366.6 155.9h0M363.7 154.6h0M366.1 155.2h0M361.8 159.9h0M361.8 158.2h0M369.9 157.9h0M370.5 151.1h0M372.2 147.3h0M382.4 146.1h0M364.0 156.9h0M362.7 156.0h0M372.9 148.6h0M379.7 151.4h0M369.8 151.7h0M368.2 154.4h0M368.1 152.6h0M366.8 149.5h0M366.8 141.7h0M374.4 149.5h0M362.6 152.3h0M362.4 159.6h0M369.8 148.3h0M361.5 155.0h0M374.2 151.6h0M371.0 153.0h0M364.6 158.6h0M379.3 149.5h0M366.4 147.5h0M373.9 149.7h0M364.7 156.0h0M372.2 152.9h0M379.2 153.4h0M363.8 155.9h0M363.6 154.7h0M364.3 158.1h0M369.1 147.5h0M366.2 159.2h0M363.3 158.1h0M370.1 159.9h0" stroke="#ff0000" stroke-width="1.15" stroke-linecap="round" fill="none" opacity="1.0"/>
<path d="M379.2 125.4h0M391.6 152.0h0M373.7 141.8h0M376.6 159.3h0M371.4 158.5h0M373.4 137.0h0M373.7 146.3h0M397.1 147.8h0M368.1 159.9h0M390.5 140.4h0M385.4 151.7h0M392.8 147.1h0M363.2 139.3h0M371.7 144.5h0M377.0 138.4h0M382.9 143.7h0M372.0 127.4h0M365.3 154.2h0M375.5 156.4h0M371.1 139.1h0M388.8 126.2h0M365.7 133.3h0M364.9 152.2h0M393.9 154.0h0M387.5 132.1h0M362.5 158.5h0M369.8 156.9h0M364.5 146.0h0M366.6 146.8h0M388.4 129.3h0M380.3 128.5h0M396.7 145.4h0M389.2 145.0h0M363.1 155.7h0M392.9 140.8h0M385.0 139.8h0M391.9 141.5h0M372.1 140.8h0M382.2 155.1h0M390.4 128.4h0M381.6 143.5h0M384.6 138.5h0M381.7 147.7h0M397.1 140.8h0M393.1 147.4h0M365.6 130.4h0M373.6 134.3h0M380.9 131.9h0M401.9 149.6h0M376.0 148.2h0M386.6 158.6h0M376.1 155.4h0M393.9 132.9h0M366.6 152.5h0M377.8 134.1h0M379.8 149.3h0M392.3 127.1h0M368.9 133.7h0M367.9 139.2h0M366.1 146.3h0M377.6 130.0h0M389.0 133.2h0M361.6 153.8h0M391.8 155.4h0M372.8 130.6h0M389.4 125.9h0M400.6 146.3h0M383.3 122.1h0M372.3 137.1h0M385.1 123.1h0M400.8 150.1h0M394.2 150.2h0M368.0 129.7h0M362.2 142.2h0M367.8 157.1h0M393.3 131.5h0M366.4 135.4h0M393.3 141.9h0M393.7 133.6h0M390.5 140.4h0" stroke="#ff0000" stroke-width="1.15" stroke-linecap="round" fill="none" opacity="1.0"/>
<line x1="323.5" y1="23" x2="323.5" y2="191.10" stroke="#6a6a6a" stroke-width="0.75" stroke-dasharray="1 1"/>
<line x1="360.5" y1="23" x2="360.5" y2="191.10" stroke="#6a6a6a" stroke-width="0.75" stroke-dasharray="1 1"/>
<line x1="255" y1="160.5" x2="456.50" y2="160.5" stroke="#6a6a6a" stroke-width="0.75" stroke-dasharray="1 1"/>
<text x="365.60" y="35.50" font-size="5.2" text-anchor="start" fill="#ff0000" >HLA−A</text>
<text x="354.70" y="75.70" font-size="5.2" text-anchor="start" fill="#ff0000" >TMSB4X</text>
<text x="374.00" y="85.90" font-size="5.2" text-anchor="start" fill="#ff0000" >TMSB10</text>
<text x="410.00" y="85.90" font-size="5.2" text-anchor="start" fill="#ff0000" >MBP</text>
<text x="385.50" y="91.80" font-size="5.2" text-anchor="start" fill="#ff0000" >IRF1</text>
<text x="398.00" y="92.10" font-size="5.2" text-anchor="start" fill="#ff0000" >STAT1</text>
<text x="381.00" y="98.90" font-size="5.2" text-anchor="start" fill="#ff0000" >CD74</text>
<text x="396.50" y="97.90" font-size="5.2" text-anchor="start" fill="#ff0000" >NKG7</text>
<text x="412.00" y="98.90" font-size="5.2" text-anchor="start" fill="#ff0000" >CTSW</text>
<text x="437.70" y="103.40" font-size="5.2" text-anchor="start" fill="#ff0000" >GZMK</text>
<text x="397.00" y="106.50" font-size="5.2" text-anchor="start" fill="#ff0000" >JUNB</text>
<text x="351.00" y="110.30" font-size="5.2" text-anchor="start" fill="#ff0000" >HLA−B</text>
<text x="410.00" y="112.70" font-size="5.2" text-anchor="start" fill="#ff0000" >GZMH</text>
<text x="382.00" y="114.40" font-size="5.2" text-anchor="start" fill="#ff0000" >RPL27A</text>
<text x="358.00" y="119.60" font-size="5.2" text-anchor="start" fill="#ff0000" >RPL13A</text>
<text x="379.40" y="122.70" font-size="5.2" text-anchor="start" fill="#ff0000" >XAF1</text>
<text x="398.00" y="120.90" font-size="5.2" text-anchor="start" fill="#ff0000" >ELF2</text>
<text x="423.00" y="131.20" font-size="5.2" text-anchor="start" fill="#ff0000" >TRAV12−2</text>
<text x="437.70" y="138.10" font-size="5.2" text-anchor="start" fill="#ff0000" >GZMB</text>
<text x="404.00" y="143.20" font-size="5.2" text-anchor="start" fill="#ff0000" >CCL3L1</text>
<text x="443.00" y="143.20" font-size="5.2" text-anchor="start" fill="#ff0000" >CCL4</text>
<text x="419.90" y="151.10" font-size="5.2" text-anchor="start" fill="#ff0000" >GNLY</text>
<text x="269.60" y="118.50" font-size="5.2" text-anchor="start" fill="#0000ff" >KLRB1</text>
<text x="273.70" y="127.10" font-size="5.2" text-anchor="start" fill="#0000ff" >KDM5A</text>
<text x="275.80" y="132.90" font-size="5.2" text-anchor="start" fill="#0000ff" >AQP3</text>
<text x="290.90" y="132.90" font-size="5.2" text-anchor="start" fill="#0000ff" >C9orf16</text>
<line x1="253.50" y1="22.80" x2="253.50" y2="191.40" stroke="#555555" stroke-width="0.6" />
<line x1="253.20" y1="191.50" x2="456.50" y2="191.50" stroke="#555555" stroke-width="0.6" />
<line x1="250.40" y1="183.40" x2="253.60" y2="183.40" stroke="#333" stroke-width="0.65" />
<text x="248.60" y="185.70" font-size="6.3" text-anchor="end" fill="#333333" stroke="#333333" >0.0</text>
<line x1="250.40" y1="139.40" x2="253.60" y2="139.40" stroke="#333" stroke-width="0.65" />
<text x="248.60" y="141.70" font-size="6.3" text-anchor="end" fill="#333333" stroke="#333333" >2.5</text>
<line x1="250.40" y1="95.40" x2="253.60" y2="95.40" stroke="#333" stroke-width="0.65" />
<text x="248.60" y="97.70" font-size="6.3" text-anchor="end" fill="#333333" stroke="#333333" >5.0</text>
<line x1="250.40" y1="51.40" x2="253.60" y2="51.40" stroke="#333" stroke-width="0.65" />
<text x="248.60" y="53.70" font-size="6.3" text-anchor="end" fill="#333333" stroke="#333333" >7.5</text>
<line x1="267.50" y1="191.10" x2="267.50" y2="194.30" stroke="#333" stroke-width="0.65" />
<text x="267.50" y="199.70" font-size="6.3" text-anchor="middle" fill="#333333" stroke="#333333" >−1.0</text>
<line x1="304.65" y1="191.10" x2="304.65" y2="194.30" stroke="#333" stroke-width="0.65" />
<text x="304.65" y="199.70" font-size="6.3" text-anchor="middle" fill="#333333" stroke="#333333" >−0.5</text>
<line x1="341.80" y1="191.10" x2="341.80" y2="194.30" stroke="#333" stroke-width="0.65" />
<text x="341.80" y="199.70" font-size="6.3" text-anchor="middle" fill="#333333" stroke="#333333" >0.0</text>
<line x1="378.95" y1="191.10" x2="378.95" y2="194.30" stroke="#333" stroke-width="0.65" />
<text x="378.95" y="199.70" font-size="6.3" text-anchor="middle" fill="#333333" stroke="#333333" >0.5</text>
<line x1="416.10" y1="191.10" x2="416.10" y2="194.30" stroke="#333" stroke-width="0.65" />
<text x="416.10" y="199.70" font-size="6.3" text-anchor="middle" fill="#333333" stroke="#333333" >1.0</text>
<line x1="453.25" y1="191.10" x2="453.25" y2="194.30" stroke="#333" stroke-width="0.65" />
<text x="453.25" y="199.70" font-size="6.3" text-anchor="middle" fill="#333333" stroke="#333333" >1.5</text>
<text x="355.05" y="20.10" font-size="6.8" text-anchor="middle" fill="#000" stroke="#000" >PLHIV−ART&lt;3m vs HIV−</text>
<text x="355.05" y="207.9" font-size="7.9" text-anchor="middle" fill="#000" stroke="#000">Average log<tspan font-size="5.4" dy="1.1">2</tspan><tspan dy="-1.1"> FoldChange</tspan></text>
<text transform="translate(237.30,106.95) rotate(-90)" font-size="7.9" text-anchor="middle" fill="#000" stroke="#000">− log<tspan font-size="5.5" dy="1.7">10</tspan><tspan dy="-1.7"> adjusted P−value</tspan></text>
<path d="M552.4 149.0 L556.0 151.0 L560.0 155.0 L564.0 160.0 L567.5 166.0 L570.0 172.0 L571.5 176.5 L576.7 174.5 L581.4 171.5 L588.4 169.0 L588.4 173.4 L599.0 173.2 L600.0 175.0 L596.0 177.0 L588.4 180.0 L579.0 182.5 L570.3 184.5 L560.4 182.5 L553.4 179.5 L547.5 176.0 L545.0 173.4 L552.4 173.4Z" fill="#bebebe"/>
<path d="M550.1 178.3h0M572.5 174.8h0M568.2 167.4h0M595.2 179.3h0M555.9 180.0h0M556.8 151.6h0M555.1 147.6h0M587.6 173.2h0M548.8 177.0h0M582.0 182.0h0M594.8 174.3h0M553.1 177.9h0M552.9 174.4h0M552.7 177.8h0M570.6 169.3h0M566.0 184.2h0M577.3 183.8h0M564.8 181.8h0M554.0 181.3h0M577.1 182.3h0M562.5 157.0h0M564.2 184.7h0M547.6 175.0h0M562.9 158.4h0M570.3 184.3h0M559.5 157.0h0M567.6 160.5h0M588.6 171.9h0M570.8 177.0h0M599.4 174.0h0M599.2 173.3h0M546.7 174.1h0M586.0 180.5h0M564.3 160.3h0M562.0 159.1h0M553.1 149.3h0M558.5 155.8h0M549.0 177.2h0M590.6 173.1h0M574.0 184.9h0M585.1 181.7h0M559.9 160.4h0M593.4 173.2h0M557.8 182.7h0M554.9 150.9h0M588.4 172.6h0M554.9 170.6h0M557.4 150.4h0M548.3 176.7h0M585.3 179.3h0M566.8 170.0h0M578.7 171.3h0M562.1 183.5h0M595.5 177.7h0M582.3 174.0h0M553.9 164.3h0M598.0 177.6h0M586.1 169.6h0M568.3 185.3h0M587.5 180.8h0M585.5 180.3h0M544.5 175.2h0M583.6 182.5h0M561.6 158.3h0M593.2 174.3h0M559.3 154.4h0M570.4 174.2h0M554.0 148.5h0M592.1 178.6h0M587.3 172.6h0M590.7 178.7h0M574.7 175.9h0M599.9 175.6h0M596.0 173.3h0M550.6 178.2h0M553.2 169.1h0M594.3 177.9h0M579.5 171.8h0M553.3 160.5h0M585.9 169.5h0M565.5 180.9h0M546.8 173.8h0M572.9 176.8h0M553.3 179.4h0M584.4 172.4h0M548.1 178.7h0M552.6 153.4h0M569.3 172.0h0M587.7 178.8h0M584.9 167.2h0M558.1 153.8h0M550.0 179.7h0M565.3 182.8h0M577.5 183.0h0M562.8 154.1h0M566.6 182.9h0M551.6 178.4h0M561.8 156.0h0M565.1 163.1h0M579.9 172.1h0M552.5 177.5h0M596.5 176.7h0M548.5 175.5h0M557.4 181.3h0M561.5 181.6h0M552.2 148.8h0M550.7 177.1h0M590.5 173.1h0M584.8 171.5h0M556.0 179.7h0M553.0 172.0h0M553.6 149.9h0M573.6 175.6h0M559.6 151.6h0M560.1 154.9h0M585.3 179.6h0M565.8 161.3h0M553.2 158.8h0M549.9 179.0h0M548.7 176.3h0M579.5 181.2h0M573.6 182.5h0M562.8 182.1h0M584.0 180.8h0M579.5 173.7h0M568.4 186.5h0M589.7 178.2h0M555.0 152.2h0M564.6 158.5h0M597.3 177.0h0M588.0 169.9h0M592.3 179.9h0M558.8 182.4h0M572.7 185.2h0M592.9 175.5h0M588.9 172.1h0M569.1 183.9h0M596.9 176.3h0M591.3 175.2h0M571.4 184.8h0M552.2 161.0h0M576.1 184.8h0M553.0 152.4h0M568.3 170.4h0M563.3 182.7h0M556.9 151.7h0M565.7 165.1h0M558.2 179.5h0M574.9 182.2h0M568.5 167.8h0M559.5 181.6h0M573.7 184.4h0M545.9 174.4h0M555.8 179.8h0M589.0 175.3h0M585.2 166.6h0M595.6 176.5h0M550.4 175.9h0M553.8 161.6h0M595.1 173.4h0M592.2 173.4h0M585.4 170.0h0M562.7 183.1h0M581.1 180.7h0M592.0 178.0h0M552.7 181.4h0M554.3 164.5h0M591.8 174.4h0M575.5 184.0h0M554.7 161.5h0M581.0 182.4h0M556.3 179.5h0M566.9 160.5h0M556.2 181.9h0M587.2 181.1h0M598.3 176.5h0M553.0 152.4h0M547.6 177.9h0M580.4 181.1h0M561.0 184.4h0M588.7 175.7h0M583.7 171.7h0M585.1 178.7h0M588.6 173.9h0M586.4 172.5h0M562.1 154.9h0M580.4 181.2h0M550.5 176.5h0M590.6 180.1h0M568.4 184.2h0M588.0 173.0h0M583.4 182.1h0M551.8 180.8h0M551.6 178.8h0M550.0 172.9h0M558.7 181.9h0M555.3 149.4h0M577.0 183.5h0M567.1 163.5h0M577.8 174.3h0M576.6 172.2h0M569.0 171.4h0M567.3 185.5h0M569.5 167.5h0M555.7 180.7h0M566.4 184.3h0M561.1 183.5h0M560.4 155.0h0M554.1 167.7h0M567.6 183.5h0M564.7 183.6h0M550.1 174.6h0M563.3 182.6h0M599.3 175.3h0M588.6 172.5h0M593.3 179.5h0M549.5 177.5h0M569.1 171.2h0M572.8 177.0h0M545.2 175.5h0M568.0 175.4h0M562.5 159.4h0M551.4 174.7h0M558.5 152.7h0M578.7 174.8h0M560.5 153.0h0M590.9 179.2h0M581.9 181.1h0M563.3 158.6h0M543.4 176.5h0M574.7 183.7h0M558.6 180.7h0M588.0 179.1h0M555.2 149.0h0M569.4 167.1h0M553.0 177.6h0M553.4 163.2h0M568.2 168.4h0M556.8 151.9h0M582.8 181.5h0M553.2 149.8h0M563.7 159.1h0M596.4 174.4h0M568.5 166.6h0M561.2 156.3h0M593.3 177.8h0M558.1 179.2h0M551.1 173.9h0M551.7 174.0h0M556.9 152.3h0M563.8 161.5h0M582.2 173.3h0M561.8 155.3h0M582.3 170.3h0M554.7 179.9h0M560.9 181.8h0M564.9 160.0h0M565.2 159.8h0M552.3 148.5h0M568.5 172.6h0M553.2 170.7h0M554.8 149.3h0M568.0 181.8h0M571.0 183.8h0M552.1 157.2h0M568.4 168.9h0M552.1 160.5h0M590.7 179.1h0M552.1 164.9h0M553.9 156.4h0M584.1 181.6h0M568.0 184.9h0M586.7 173.5h0M587.4 180.7h0M575.8 185.0h0M559.6 154.5h0M570.7 172.1h0M572.4 166.9h0M567.9 183.3h0M595.6 175.1h0M560.6 182.7h0M558.0 182.2h0M597.7 177.7h0M563.7 159.0h0M553.7 160.4h0M568.4 185.6h0M582.1 181.0h0M594.6 176.5h0M574.9 176.9h0M557.7 154.3h0M600.3 174.5h0M550.4 173.7h0M597.9 176.4h0M587.7 170.1h0M587.1 178.9h0M553.8 173.4h0M559.2 154.4h0M566.8 163.9h0M560.6 154.4h0M581.3 181.4h0M587.1 171.6h0M547.0 175.1h0M596.7 176.6h0M585.5 169.7h0M555.5 149.7h0M586.1 180.2h0M574.2 185.3h0M556.3 181.3h0M549.2 175.8h0M553.2 178.6h0M560.9 181.7h0M579.9 182.4h0M546.4 176.8h0M577.2 181.9h0M552.7 166.7h0M568.1 167.1h0M557.0 152.8h0M562.5 183.3h0M556.6 152.6h0M565.9 164.2h0M564.8 181.4h0M553.6 154.4h0M552.5 150.0h0M586.1 168.7h0M565.3 158.7h0M574.8 183.9h0M557.4 180.7h0M555.8 150.2h0M546.1 173.9h0M552.7 150.7h0M560.3 154.4h0M552.4 167.3h0M594.5 174.2h0M580.9 172.5h0M573.3 176.0h0M590.6 179.9h0M579.5 183.6h0M580.6 182.5h0M554.8 170.2h0M562.0 158.8h0M587.7 169.8h0M593.0 174.9h0M580.4 181.9h0M587.5 169.0h0M595.4 176.7h0M567.6 185.8h0M584.1 171.6h0M554.9 177.8h0M599.8 174.1h0M577.6 172.4h0M599.4 175.9h0M549.6 179.3h0M559.7 153.7h0M577.7 183.9h0M595.3 177.9h0M563.8 182.9h0M553.1 153.9h0M580.4 172.6h0M553.7 165.6h0M570.9 185.5h0M600.0 174.4h0M594.3 178.5h0M546.1 173.9h0M570.3 184.6h0M562.2 183.5h0M552.3 173.7h0M587.3 171.4h0M562.8 184.2h0M580.7 172.0h0M584.1 180.8h0M568.1 164.0h0M566.4 185.8h0M584.5 184.0h0M547.6 174.6h0M557.4 184.1h0M592.6 180.0h0M546.3 173.6h0M576.2 173.5h0M574.6 183.0h0M567.5 162.2h0M594.7 177.5h0M566.8 160.4h0M557.9 154.7h0M579.2 184.2h0M569.1 184.1h0M584.3 171.4h0M573.7 176.9h0M580.4 169.9h0M547.3 174.4h0M587.0 172.8h0M569.1 170.5h0M567.5 183.8h0M550.4 178.2h0M560.5 182.5h0M554.6 149.6h0M572.6 183.2h0M566.9 161.3h0M553.2 171.3h0M598.2 172.8h0M595.1 176.6h0M568.7 167.4h0M574.9 175.2h0M555.3 178.5h0M568.3 165.2h0M561.8 156.1h0M553.1 158.3h0M548.0 173.4h0M559.6 153.4h0M568.3 184.3h0M552.6 154.3h0M590.2 178.9h0M546.9 178.5h0M571.0 178.6h0M574.5 174.3h0M596.1 173.4h0M569.7 168.5h0M550.2 178.4h0M552.0 150.2h0M596.9 173.7h0M551.2 179.1h0M585.7 180.0h0M564.0 161.7h0M545.3 174.0h0M552.0 170.0h0M566.2 185.3h0M553.4 179.4h0M594.6 174.2h0M584.6 180.7h0M561.9 157.1h0M558.7 151.7h0M553.2 153.4h0M586.5 172.3h0M595.3 173.4h0M549.9 178.4h0M590.1 178.3h0M553.9 159.3h0M582.4 182.8h0M552.5 162.5h0M577.4 172.9h0M575.5 183.0h0M550.1 173.3h0M583.3 169.5h0M570.4 171.5h0M567.6 185.5h0M553.9 181.4h0M566.3 165.3h0M574.7 174.6h0M564.3 185.1h0M571.1 185.3h0M550.0 176.9h0M553.5 153.9h0M553.5 160.8h0M570.4 174.5h0M567.7 168.1h0M554.1 149.7h0M557.5 182.6h0M573.9 176.7h0M589.4 176.1h0M590.1 173.2h0M548.2 173.0h0M560.3 155.3h0M581.9 182.8h0M571.6 175.3h0M567.3 164.7h0M597.4 177.0h0M558.5 183.3h0M590.3 174.1h0M549.4 177.8h0M552.9 170.2h0M566.4 167.3h0M558.3 150.8h0M548.4 174.0h0M563.2 161.6h0M583.7 170.0h0M553.2 162.8h0M549.6 174.2h0M553.8 150.3h0M571.3 178.0h0M569.9 168.0h0M599.9 174.3h0M584.9 171.9h0M581.0 182.8h0M556.5 179.8h0M577.3 184.3h0M577.2 184.3h0M584.4 181.4h0M598.8 174.4h0M574.0 181.5h0M573.5 183.2h0M553.9 168.8h0M547.8 173.0h0M566.7 168.8h0M547.1 173.5h0M552.2 158.0h0M597.4 173.4h0M576.5 175.6h0M571.3 171.9h0M564.8 164.7h0M573.5 175.8h0M566.3 165.8h0M575.1 183.2h0M557.3 153.1h0M593.0 174.8h0M581.3 169.9h0M582.5 170.9h0M584.9 172.2h0M559.6 182.8h0M574.6 184.6h0M566.3 183.6h0M547.9 173.0h0M571.0 176.9h0M586.0 169.9h0M553.9 164.8h0M580.7 169.5h0M570.0 177.8h0M580.0 181.9h0M598.5 176.8h0M552.2 171.7h0M544.1 173.0h0M554.3 150.6h0M553.3 155.4h0M553.2 162.1h0M582.6 171.8h0M579.4 174.6h0M586.9 172.1h0M590.7 173.4h0M583.8 181.9h0M554.4 151.3h0M584.6 183.4h0M553.5 150.9h0M572.1 176.2h0" stroke="#bebebe" stroke-width="1.1" stroke-linecap="round" fill="none" opacity="1.0"/>
<path d="M588.1 162.7h0M586.6 159.3h0M581.8 166.4h0M586.1 162.6h0M583.0 171.3h0M587.8 165.9h0M579.5 167.1h0M584.6 167.5h0M583.9 163.4h0M584.5 162.9h0M587.9 165.4h0M582.2 163.6h0M582.2 169.4h0M581.9 165.2h0M580.5 166.0h0M581.0 166.7h0M580.7 169.1h0M584.9 163.2h0M588.0 159.7h0M578.3 171.0h0M580.7 167.5h0M585.3 171.6h0M586.8 159.4h0M578.5 170.5h0M582.8 163.6h0M583.1 168.3h0M584.0 164.1h0M579.5 166.8h0M581.1 171.0h0M582.0 166.2h0" stroke="#bebebe" stroke-width="1.1" stroke-linecap="round" fill="none" opacity="1.0"/>
<path d="M588.3 176.7h0M574.4 177.8h0M559.4 176.8h0M613.0 178.8h0M579.3 175.5h0M549.3 176.3h0M569.1 176.4h0M555.5 176.7h0M580.9 174.3h0M587.7 178.1h0M550.6 175.2h0M538.1 176.6h0M589.0 176.2h0M582.1 177.5h0M538.5 173.9h0M591.5 176.5h0M555.8 174.4h0M586.7 178.5h0M566.4 174.1h0M557.2 178.1h0M596.7 176.2h0M606.0 176.1h0M536.9 174.9h0M606.2 178.1h0M541.9 175.4h0M566.6 176.7h0M577.5 175.3h0M537.5 177.3h0M609.6 178.2h0M603.7 179.2h0M588.2 174.0h0M559.9 177.3h0M568.3 175.0h0M588.4 175.5h0M546.5 177.6h0M565.6 176.8h0M560.7 175.8h0M611.3 179.8h0M614.5 179.4h0M574.2 177.8h0M607.6 176.4h0M608.5 178.7h0M557.7 175.9h0M590.2 174.7h0M555.5 174.8h0M614.8 178.9h0M575.3 178.4h0M590.0 176.4h0M576.6 174.4h0M554.4 175.8h0" stroke="#bebebe" stroke-width="1.1" stroke-linecap="round" fill="none" opacity="1.0"/>
<path d="M549.5 161.6h0M535.7 154.4h0M535.7 149.9h0M548.8 157.5h0M536.3 158.1h0M550.3 159.6h0M547.4 164.9h0M546.6 170.7h0M549.6 165.0h0M541.2 167.9h0M538.1 159.5h0M533.0 159.7h0M536.4 140.2h0M545.6 164.8h0M548.2 167.5h0M544.3 166.4h0M539.3 161.3h0M549.1 153.3h0M545.3 169.3h0M551.1 163.5h0M537.5 161.9h0M537.6 150.0h0M544.2 170.2h0M536.3 149.9h0M539.6 146.5h0M542.3 152.2h0M541.7 158.3h0M541.3 167.7h0M546.8 172.7h0M551.8 172.6h0M537.8 154.1h0M546.9 158.8h0M539.7 157.1h0M543.4 162.8h0M551.5 170.1h0M540.0 162.0h0M548.5 160.5h0M545.8 168.2h0M544.9 154.8h0M537.3 149.1h0M548.6 161.5h0M544.6 153.5h0M547.9 155.0h0M542.2 163.6h0M549.6 165.8h0M550.1 157.5h0M544.1 162.8h0M533.7 143.3h0M546.4 169.1h0M548.8 168.3h0M552.1 171.0h0M547.5 155.5h0M544.7 169.4h0M547.3 163.0h0M551.5 166.1h0M537.2 162.6h0M550.3 168.1h0M543.2 167.3h0M534.5 142.9h0M541.9 158.3h0M543.5 147.7h0M544.0 150.2h0M548.2 153.9h0M545.3 159.4h0M539.3 157.6h0M543.6 163.5h0M545.0 168.1h0M549.4 160.6h0M549.8 163.0h0M540.7 158.4h0M546.5 167.0h0M532.4 143.8h0M541.6 160.6h0M538.6 159.5h0M542.4 154.0h0M544.9 169.8h0M535.7 148.7h0M530.3 154.8h0M537.3 146.4h0M543.7 152.7h0M549.5 166.6h0M549.0 160.8h0M541.7 164.5h0M542.7 155.2h0M541.8 156.9h0M535.1 152.9h0M545.2 159.9h0M546.8 161.2h0M543.0 160.9h0M545.3 159.4h0M544.5 155.8h0M544.3 151.3h0M534.6 141.9h0M549.7 157.9h0M548.4 157.5h0M538.2 164.1h0M540.4 153.5h0M550.8 172.5h0M545.0 160.4h0M543.9 165.5h0M548.9 170.6h0M544.1 168.1h0M544.6 159.1h0M544.3 160.7h0M536.5 140.9h0M547.9 167.3h0M539.1 163.0h0M546.5 166.6h0M539.5 146.9h0M544.1 152.0h0M549.5 162.9h0M538.2 151.7h0M542.9 167.8h0M543.4 154.1h0M550.4 158.2h0M549.4 161.1h0M536.5 152.0h0M545.3 165.2h0M545.1 166.2h0M544.9 163.0h0M533.9 149.4h0M544.1 157.8h0M534.8 150.4h0M549.3 170.6h0M545.7 169.3h0M545.8 148.6h0M545.2 166.5h0M552.0 167.4h0M545.1 156.6h0M546.3 162.3h0M547.3 167.7h0M548.1 161.0h0M541.1 155.0h0M536.9 153.7h0M540.0 143.2h0M544.8 146.4h0M548.2 156.8h0M542.0 165.4h0M539.7 152.1h0M543.5 159.9h0M542.7 167.4h0M541.1 158.4h0M550.7 161.8h0M538.1 158.1h0M548.0 165.2h0M542.8 164.8h0M550.2 160.7h0M545.5 148.6h0M533.8 161.5h0M546.6 167.2h0M542.0 154.8h0M546.8 159.0h0M539.9 144.3h0M551.0 168.3h0M544.2 152.6h0M545.1 155.3h0M549.3 167.5h0M548.4 168.3h0M547.4 166.8h0M546.9 162.4h0M549.9 169.6h0M549.3 163.3h0M543.3 160.0h0M546.5 165.8h0M545.9 166.1h0M550.8 169.4h0M544.3 166.2h0M542.7 152.9h0M538.7 154.5h0M536.7 149.5h0M544.0 162.7h0M543.0 164.1h0M547.9 154.2h0M544.8 153.4h0M551.5 163.0h0M547.6 166.5h0M536.7 153.8h0M537.9 154.1h0M542.0 166.8h0M546.0 161.4h0M542.3 171.3h0M551.5 167.5h0M545.0 164.4h0M548.2 160.2h0M544.4 165.3h0M540.3 157.4h0M548.5 158.0h0M545.5 147.7h0M541.9 153.4h0M548.8 165.0h0M540.4 158.9h0M532.9 152.2h0M536.9 156.5h0M543.7 169.0h0M543.2 157.8h0M536.0 152.8h0M551.8 163.6h0M533.4 151.2h0M543.8 173.1h0M548.8 157.0h0M532.6 141.4h0M543.3 155.2h0M548.8 153.5h0M548.5 158.8h0M543.9 158.8h0M549.4 171.0h0M545.6 164.1h0M546.4 168.2h0M541.4 155.8h0M546.9 165.1h0M537.9 152.1h0M536.1 151.8h0M540.8 147.6h0M551.4 167.2h0M537.3 154.6h0M549.4 165.0h0M547.1 166.1h0M548.0 162.6h0M548.0 153.0h0M542.5 167.7h0M548.2 168.3h0M533.9 157.5h0M550.0 169.8h0M544.8 156.4h0M541.7 155.6h0M538.9 146.3h0M543.1 163.8h0M536.9 142.6h0M537.8 160.9h0M547.2 165.4h0M537.9 149.2h0M549.4 151.4h0M543.7 156.7h0M546.2 163.4h0M547.6 161.5h0M548.6 168.6h0M541.8 163.5h0M536.7 163.8h0M543.1 157.6h0M551.9 163.4h0M542.0 170.4h0M546.6 158.8h0M550.8 156.2h0M543.1 162.5h0M547.6 164.4h0M549.4 158.9h0M546.2 167.6h0M546.7 170.3h0M545.0 158.9h0M538.9 159.2h0M549.8 169.3h0M548.3 162.3h0M545.1 154.9h0M542.4 161.4h0M534.5 151.7h0M548.9 156.4h0M547.6 161.6h0M548.7 160.9h0M545.8 161.3h0M536.3 160.7h0M544.5 161.7h0M537.3 144.3h0M544.8 169.5h0M550.3 165.0h0M544.3 150.0h0M545.2 161.6h0M550.3 159.0h0M551.9 162.2h0M551.3 171.0h0M545.3 154.7h0M544.0 162.6h0M550.1 172.3h0M535.6 150.1h0M542.3 155.5h0M538.6 158.8h0M540.9 157.9h0M546.3 158.5h0M548.5 162.4h0M539.4 151.9h0M541.4 162.6h0M550.5 170.4h0M540.2 157.2h0M524.8 146.5h0M540.9 160.9h0M549.1 158.0h0M551.1 164.5h0M542.9 164.2h0M548.1 170.5h0M543.9 148.6h0M540.0 164.4h0M548.2 168.9h0M540.7 163.5h0M547.7 168.4h0M539.4 144.8h0M543.1 156.1h0M541.8 157.4h0M548.8 162.4h0M549.7 164.8h0M538.9 152.1h0M549.0 166.7h0M542.1 158.2h0M544.1 164.1h0M549.3 163.0h0M550.7 171.5h0M548.5 161.6h0M547.2 160.1h0M543.0 168.4h0M545.2 171.5h0M550.4 169.9h0M538.9 154.8h0M551.9 170.2h0M545.2 152.4h0M550.2 162.9h0M547.6 171.2h0M543.3 160.9h0M540.3 159.0h0M542.0 163.0h0M536.7 149.4h0M541.3 155.2h0M534.6 157.3h0M542.7 157.9h0M547.2 159.4h0M542.8 154.6h0M548.8 166.7h0M539.6 158.3h0M545.3 160.1h0M550.1 165.0h0M542.1 165.4h0M550.2 168.2h0M542.3 172.9h0M540.9 145.7h0M549.5 166.6h0M550.4 168.6h0M545.3 160.4h0M544.0 158.3h0M538.7 155.3h0M539.6 152.0h0M537.3 150.4h0M549.1 165.4h0M546.3 150.4h0M546.8 169.2h0M547.4 153.9h0M542.1 157.7h0M540.1 151.8h0M548.3 160.6h0M548.4 160.0h0M546.6 158.3h0M549.9 159.8h0M551.7 159.3h0M549.6 161.4h0M551.0 167.9h0M545.2 159.3h0M538.9 149.1h0M542.3 152.4h0M538.0 155.3h0M544.7 157.9h0M546.6 158.3h0M549.7 164.8h0M548.1 169.2h0M542.0 163.8h0" stroke="#0000ff" stroke-width="1.15" stroke-linecap="round" fill="none" opacity="1.0"/>
<path d="M545.3 145.9h0M536.4 133.6h0M534.0 168.5h0M540.4 166.6h0M548.7 140.7h0M535.0 168.3h0M535.2 155.8h0M550.7 150.1h0M539.4 171.4h0M549.1 170.0h0M545.6 139.7h0M550.4 153.4h0M549.5 171.4h0M535.2 171.9h0M536.1 137.7h0M536.0 173.0h0M550.8 145.2h0M540.7 165.6h0M547.8 168.8h0M538.0 140.0h0M541.3 170.3h0M543.6 167.7h0M534.3 151.9h0M550.3 154.7h0M547.5 164.9h0M539.8 159.8h0M545.3 149.0h0M541.5 165.0h0M549.5 172.6h0M538.1 159.2h0M542.2 166.8h0M535.3 150.2h0M535.7 164.7h0M532.4 136.1h0M543.1 163.5h0M537.6 133.4h0M542.9 156.5h0M539.5 141.7h0M537.7 140.0h0M548.0 146.5h0M545.8 153.7h0M535.1 142.1h0M544.8 167.3h0M535.7 134.3h0M534.2 146.7h0M545.9 169.6h0M543.1 136.3h0M538.3 136.2h0M536.2 154.8h0M541.1 137.4h0M536.1 168.7h0M543.9 156.0h0M537.1 142.9h0M544.4 171.3h0M544.0 132.1h0M530.7 163.9h0M534.1 148.2h0M544.4 159.2h0M536.4 159.5h0M550.2 150.2h0M538.8 159.6h0M549.3 159.7h0M550.5 163.8h0M551.1 140.8h0M544.9 139.0h0M532.6 144.8h0M550.9 142.7h0M536.8 170.0h0M551.7 162.7h0M537.8 165.6h0M535.3 167.1h0M539.9 166.8h0M540.8 146.1h0M540.0 171.1h0M551.5 170.2h0M532.2 149.1h0M548.4 136.7h0M531.9 162.0h0M545.7 172.7h0M531.1 160.4h0" stroke="#0000ff" stroke-width="1.15" stroke-linecap="round" fill="none" opacity="1.0"/>
<path d="M594.2 168.6h0M610.5 164.5h0M594.1 169.4h0M599.1 171.4h0M598.3 170.7h0M596.0 170.3h0M594.2 170.2h0M593.0 172.0h0M590.3 172.1h0M590.3 171.5h0M605.0 166.9h0M592.5 173.0h0M596.7 170.5h0M589.9 172.9h0M600.5 167.1h0M595.8 171.1h0M599.0 166.9h0M602.5 171.2h0M602.2 169.7h0M596.8 169.9h0M599.0 169.4h0M599.4 166.1h0M598.6 167.8h0M589.9 167.8h0M590.2 169.9h0M597.2 167.1h0M596.9 168.3h0M593.1 171.1h0M597.5 168.6h0M593.7 171.6h0M601.5 168.4h0M596.9 172.3h0M593.5 170.3h0M600.0 164.1h0M597.0 165.0h0M592.8 167.9h0M595.5 169.2h0M598.1 166.6h0M598.8 170.6h0M595.7 169.6h0M597.8 167.6h0M591.6 172.6h0M599.9 165.5h0M596.1 167.4h0M597.7 168.5h0M595.8 167.6h0M599.7 165.9h0M597.5 166.9h0M597.4 166.9h0M591.9 170.2h0M589.9 171.1h0M602.8 165.1h0M602.9 168.4h0M593.1 170.6h0M591.3 172.5h0M596.8 168.8h0M606.0 168.1h0M594.5 171.9h0M593.6 171.4h0M597.6 171.6h0M597.2 170.1h0M593.2 172.8h0M598.9 169.5h0M595.5 172.2h0M593.0 169.1h0M610.4 162.5h0M597.9 166.8h0M598.8 172.6h0M599.8 164.0h0M597.2 167.9h0M591.5 170.4h0M604.5 163.8h0M593.9 171.6h0M591.6 171.8h0M589.4 172.2h0M597.4 172.1h0M598.5 170.7h0M597.5 171.1h0M590.0 172.4h0M599.9 165.7h0M593.4 171.5h0M600.1 169.1h0M589.0 171.7h0M591.4 168.0h0M595.9 169.7h0M589.6 172.4h0M596.9 172.8h0M593.6 170.8h0M592.0 166.5h0M608.0 161.5h0M590.6 169.4h0M601.3 168.8h0M589.3 168.5h0M597.0 170.3h0M591.4 170.9h0M602.5 161.1h0M590.1 171.2h0M593.6 166.5h0M593.5 172.1h0M589.7 172.3h0M598.0 167.7h0M597.6 166.8h0M598.4 171.4h0M591.6 171.1h0M593.5 172.1h0M591.1 170.2h0M594.4 169.6h0M594.4 170.9h0M600.6 165.4h0M600.6 159.1h0M606.3 166.5h0M603.5 165.4h0M594.4 167.5h0M600.5 163.4h0M595.7 170.4h0M598.3 171.2h0M599.0 168.7h0M591.7 170.4h0M590.7 172.2h0M596.5 167.7h0M605.0 161.2h0M598.5 167.3h0M592.6 170.3h0M602.7 164.5h0M597.4 168.9h0M599.1 169.1h0M602.9 163.2h0M601.6 166.2h0M592.5 172.1h0M600.8 164.4h0M602.5 165.3h0M591.3 171.1h0M598.3 168.1h0M595.5 170.7h0M604.2 166.0h0M603.2 164.8h0M595.2 168.0h0M596.4 166.7h0M596.0 167.6h0M595.7 171.7h0M590.2 167.7h0M602.5 164.9h0M599.9 165.1h0M600.3 165.9h0M592.7 171.5h0M600.5 166.8h0M598.2 169.5h0M602.1 161.4h0M601.1 168.8h0M592.1 171.8h0M602.3 167.1h0M590.5 171.4h0M599.3 164.8h0M591.5 168.2h0M598.7 171.7h0M589.7 170.5h0M599.8 167.2h0M601.0 164.4h0M589.8 170.8h0M594.2 168.9h0M598.2 165.7h0M595.9 170.1h0M589.9 171.8h0M588.9 173.1h0M594.6 171.7h0M603.4 164.2h0M592.6 172.4h0M606.0 162.3h0M605.5 166.9h0M601.9 165.9h0M594.6 172.3h0M598.7 169.2h0M601.1 166.4h0M590.4 172.6h0M591.8 170.0h0M593.1 169.3h0M597.0 167.0h0M597.3 169.5h0M595.6 171.0h0M593.5 169.6h0M605.7 166.6h0M593.0 172.7h0M599.9 171.3h0M599.8 166.6h0M591.0 169.1h0M596.6 171.4h0M594.2 169.2h0M609.8 162.6h0M596.2 171.0h0M600.1 160.2h0" stroke="#ff0000" stroke-width="1.15" stroke-linecap="round" fill="none" opacity="1.0"/>
<path d="M589.3 166.8h0M612.2 141.4h0M621.7 167.7h0M599.9 143.1h0M608.9 164.4h0M590.2 162.8h0M593.6 151.3h0M609.7 148.5h0M624.5 169.8h0M617.2 156.0h0M614.1 149.7h0M607.1 157.3h0M605.3 153.6h0M622.2 172.8h0M617.6 168.2h0M600.7 140.6h0M597.5 155.6h0M618.8 163.8h0M624.7 165.4h0M600.4 139.9h0M607.7 149.6h0M622.9 169.9h0M609.9 165.2h0M617.3 156.3h0M606.1 171.5h0M620.0 158.1h0M618.9 157.4h0M601.3 142.5h0M611.5 168.6h0M595.6 169.6h0M610.4 155.1h0M601.9 142.2h0M599.2 171.1h0M621.7 171.5h0M608.3 155.6h0M591.1 153.0h0M611.6 173.0h0M591.2 161.1h0M590.5 172.2h0M596.6 162.4h0M613.6 145.2h0M606.8 152.9h0M595.7 151.9h0M591.2 162.9h0M626.9 157.1h0M604.4 156.1h0M594.4 164.0h0M615.9 141.7h0M603.6 142.3h0M609.5 163.0h0M625.6 168.8h0M594.7 163.2h0M605.6 143.9h0M606.9 171.0h0M589.5 162.6h0M610.0 169.1h0M607.4 146.8h0M615.8 148.3h0M614.6 156.8h0M612.1 170.6h0M597.6 173.0h0M611.1 166.5h0M598.5 173.1h0M617.0 154.6h0M597.2 168.9h0M610.7 172.8h0M623.4 164.4h0M617.1 143.9h0M621.3 163.2h0M618.7 165.0h0M616.0 151.0h0M597.6 153.5h0M598.9 163.9h0M621.5 164.2h0M601.4 158.4h0M601.1 157.3h0M609.6 143.4h0M621.9 166.6h0M597.9 164.4h0M620.4 159.7h0M625.4 153.0h0M597.6 154.7h0M600.5 151.4h0M619.4 149.4h0M616.7 158.9h0M589.6 156.0h0M622.8 160.8h0M622.2 160.5h0M605.4 145.0h0M618.4 148.4h0" stroke="#ff0000" stroke-width="1.15" stroke-linecap="round" fill="none" opacity="1.0"/>
<line x1="552.5" y1="23" x2="552.5" y2="191.10" stroke="#6a6a6a" stroke-width="0.75" stroke-dasharray="1 1"/>
<line x1="588.5" y1="23" x2="588.5" y2="191.10" stroke="#6a6a6a" stroke-width="0.75" stroke-dasharray="1 1"/>
<line x1="483" y1="173.5" x2="684.40" y2="173.5" stroke="#6a6a6a" stroke-width="0.75" stroke-dasharray="1 1"/>
<text x="633.00" y="29.80" font-size="5.2" text-anchor="start" fill="#ff0000" >RPS29</text>
<text x="605.00" y="97.60" font-size="5.2" text-anchor="start" fill="#ff0000" >TMSB10</text>
<text x="585.30" y="118.40" font-size="5.2" text-anchor="start" fill="#ff0000" >RPS27</text>
<text x="603.40" y="118.80" font-size="5.2" text-anchor="start" fill="#ff0000" >RPS21</text>
<text x="645.70" y="119.40" font-size="5.2" text-anchor="start" fill="#ff0000" >IER2</text>
<text x="576.60" y="128.90" font-size="5.2" text-anchor="start" fill="#ff0000" >TMSB4X</text>
<text x="608.80" y="127.50" font-size="5.2" text-anchor="start" fill="#ff0000" >RPL36</text>
<text x="637.00" y="127.90" font-size="5.2" text-anchor="start" fill="#ff0000" >FOSB</text>
<text x="619.50" y="132.90" font-size="5.2" text-anchor="start" fill="#ff0000" >HSPA8</text>
<text x="638.00" y="133.50" font-size="5.2" text-anchor="start" fill="#ff0000" >JUNB</text>
<text x="597.70" y="134.50" font-size="5.2" text-anchor="start" fill="#ff0000" >RPL13A</text>
<text x="621.00" y="138.90" font-size="5.2" text-anchor="start" fill="#ff0000" >EIF4A2</text>
<text x="588.60" y="139.60" font-size="5.2" text-anchor="start" fill="#ff0000" >H3F3B</text>
<text x="607.80" y="142.90" font-size="5.2" text-anchor="start" fill="#ff0000" >IRF1</text>
<text x="626.00" y="143.90" font-size="5.2" text-anchor="start" fill="#ff0000" >DNAJA1</text>
<text x="582.60" y="145.60" font-size="5.2" text-anchor="start" fill="#ff0000" >IL32</text>
<text x="597.40" y="148.90" font-size="5.2" text-anchor="start" fill="#ff0000" >VIM</text>
<text x="608.80" y="148.90" font-size="5.2" text-anchor="start" fill="#ff0000" >DYNLL1</text>
<text x="645.70" y="150.70" font-size="5.2" text-anchor="start" fill="#ff0000" >GADD45B</text>
<text x="658.00" y="156.90" font-size="5.2" text-anchor="start" fill="#ff0000" >TRAV12−2</text>
<text x="651.40" y="165.80" font-size="5.2" text-anchor="start" fill="#ff0000" >GZMB</text>
<text x="502.00" y="105.30" font-size="5.2" text-anchor="start" fill="#0000ff" >FKBP5</text>
<text x="523.80" y="113.40" font-size="5.2" text-anchor="start" fill="#0000ff" >PPDPF</text>
<text x="505.40" y="121.80" font-size="5.2" text-anchor="start" fill="#0000ff" >CA10</text>
<text x="521.00" y="122.80" font-size="5.2" text-anchor="start" fill="#0000ff" >EID1</text>
<text x="503.00" y="128.90" font-size="5.2" text-anchor="start" fill="#0000ff" >CCNH</text>
<text x="534.00" y="130.50" font-size="5.2" text-anchor="start" fill="#0000ff" >TLE1</text>
<text x="493.60" y="136.90" font-size="5.2" text-anchor="start" fill="#0000ff" >TRAV6</text>
<text x="544.00" y="138.60" font-size="5.2" text-anchor="start" fill="#0000ff" >RPS4X</text>
<text x="487.00" y="148.90" font-size="5.2" text-anchor="start" fill="#0000ff" >TRBV12−4</text>
<text x="481.90" y="168.10" font-size="5.2" text-anchor="start" fill="#0000ff" >IL17A</text>
<line x1="480.50" y1="22.80" x2="480.50" y2="191.40" stroke="#555555" stroke-width="0.6" />
<line x1="480.20" y1="191.50" x2="684.40" y2="191.50" stroke="#555555" stroke-width="0.6" />
<line x1="477.60" y1="183.40" x2="480.80" y2="183.40" stroke="#333" stroke-width="0.65" />
<text x="475.80" y="185.70" font-size="6.3" text-anchor="end" fill="#333333" stroke="#333333" >0</text>
<line x1="477.60" y1="143.60" x2="480.80" y2="143.60" stroke="#333" stroke-width="0.65" />
<text x="475.80" y="145.90" font-size="6.3" text-anchor="end" fill="#333333" stroke="#333333" >5</text>
<line x1="477.60" y1="103.80" x2="480.80" y2="103.80" stroke="#333" stroke-width="0.65" />
<text x="475.80" y="106.10" font-size="6.3" text-anchor="end" fill="#333333" stroke="#333333" >10</text>
<line x1="477.60" y1="64.00" x2="480.80" y2="64.00" stroke="#333" stroke-width="0.65" />
<text x="475.80" y="66.30" font-size="6.3" text-anchor="end" fill="#333333" stroke="#333333" >15</text>
<line x1="477.60" y1="24.20" x2="480.80" y2="24.20" stroke="#333" stroke-width="0.65" />
<text x="475.80" y="26.50" font-size="6.3" text-anchor="end" fill="#333333" stroke="#333333" >20</text>
<line x1="497.70" y1="191.10" x2="497.70" y2="194.30" stroke="#333" stroke-width="0.65" />
<text x="497.70" y="199.70" font-size="6.3" text-anchor="middle" fill="#333333" stroke="#333333" >−1.0</text>
<line x1="534.10" y1="191.10" x2="534.10" y2="194.30" stroke="#333" stroke-width="0.65" />
<text x="534.10" y="199.70" font-size="6.3" text-anchor="middle" fill="#333333" stroke="#333333" >−0.5</text>
<line x1="570.50" y1="191.10" x2="570.50" y2="194.30" stroke="#333" stroke-width="0.65" />
<text x="570.50" y="199.70" font-size="6.3" text-anchor="middle" fill="#333333" stroke="#333333" >0.0</text>
<line x1="606.90" y1="191.10" x2="606.90" y2="194.30" stroke="#333" stroke-width="0.65" />
<text x="606.90" y="199.70" font-size="6.3" text-anchor="middle" fill="#333333" stroke="#333333" >0.5</text>
<line x1="643.30" y1="191.10" x2="643.30" y2="194.30" stroke="#333" stroke-width="0.65" />
<text x="643.30" y="199.70" font-size="6.3" text-anchor="middle" fill="#333333" stroke="#333333" >1.0</text>
<line x1="679.70" y1="191.10" x2="679.70" y2="194.30" stroke="#333" stroke-width="0.65" />
<text x="679.70" y="199.70" font-size="6.3" text-anchor="middle" fill="#333333" stroke="#333333" >1.5</text>
<text x="582.60" y="20.10" font-size="6.8" text-anchor="middle" fill="#000" stroke="#000" >PLHIV−ART&lt;3m vs PLHIV−ART&gt;1yr</text>
<text x="582.60" y="207.9" font-size="7.9" text-anchor="middle" fill="#000" stroke="#000">Average log<tspan font-size="5.4" dy="1.1">2</tspan><tspan dy="-1.1"> FoldChange</tspan></text>
<text transform="translate(465.50,106.95) rotate(-90)" font-size="7.9" text-anchor="middle" fill="#000" stroke="#000">− log<tspan font-size="5.5" dy="1.7">10</tspan><tspan dy="-1.7"> adjusted P−value</tspan></text>
<line x1="25.50" y1="235.70" x2="25.50" y2="404.10" stroke="#555555" stroke-width="0.6" />
<line x1="25.20" y1="403.50" x2="129.00" y2="403.50" stroke="#555555" stroke-width="0.6" />
<line x1="22.00" y1="255.20" x2="25.20" y2="255.20" stroke="#333" stroke-width="0.65" />
<text x="21.00" y="257.60" font-size="6.6" text-anchor="end" fill="#1a1a1a" stroke="#1a1a1a" >M5</text>
<line x1="22.00" y1="287.50" x2="25.20" y2="287.50" stroke="#333" stroke-width="0.65" />
<text x="21.00" y="289.90" font-size="6.6" text-anchor="end" fill="#1a1a1a" stroke="#1a1a1a" >M4</text>
<line x1="22.00" y1="319.80" x2="25.20" y2="319.80" stroke="#333" stroke-width="0.65" />
<text x="21.00" y="322.20" font-size="6.6" text-anchor="end" fill="#1a1a1a" stroke="#1a1a1a" >M3</text>
<line x1="22.00" y1="352.10" x2="25.20" y2="352.10" stroke="#333" stroke-width="0.65" />
<text x="21.00" y="354.50" font-size="6.6" text-anchor="end" fill="#1a1a1a" stroke="#1a1a1a" >M2</text>
<line x1="22.00" y1="384.40" x2="25.20" y2="384.40" stroke="#333" stroke-width="0.65" />
<text x="21.00" y="386.80" font-size="6.6" text-anchor="end" fill="#1a1a1a" stroke="#1a1a1a" >M1</text>
<line x1="44.70" y1="403.80" x2="44.70" y2="407.00" stroke="#333" stroke-width="0.65" />
<line x1="77.00" y1="403.80" x2="77.00" y2="407.00" stroke="#333" stroke-width="0.65" />
<line x1="109.70" y1="403.80" x2="109.70" y2="407.00" stroke="#333" stroke-width="0.65" />
<text x="44.70" y="412.60" font-size="6.8" text-anchor="middle" fill="#262626" stroke="#262626" >HIV−</text>
<text x="77.00" y="412.60" font-size="6.8" text-anchor="middle" fill="#262626" stroke="#262626" >PLHIV</text>
<text x="77.00" y="419.60" font-size="6.8" text-anchor="middle" fill="#262626" stroke="#262626" >ART&lt;3m</text>
<text x="109.70" y="412.60" font-size="6.8" text-anchor="middle" fill="#262626" stroke="#262626" >PLHIV</text>
<text x="109.70" y="419.60" font-size="6.8" text-anchor="middle" fill="#262626" stroke="#262626" >ART&gt;1yr</text>
<text x="77.20" y="232.60" font-size="6.8" text-anchor="middle" fill="#000" stroke="#000" >T cell enriched modules</text>
<circle cx="44.7" cy="255.2" r="1.6" fill="#c9b6ef"/>
<circle cx="77.0" cy="255.2" r="2.0" fill="#e2a694"/>
<circle cx="109.7" cy="255.2" r="2.2" fill="#b8a0ee"/>
<circle cx="44.7" cy="287.5" r="1.5" fill="#c9b8f0"/>
<circle cx="77.0" cy="287.5" r="1.9" fill="#e2a694"/>
<circle cx="109.7" cy="287.5" r="0.5" fill="#f0e4e4"/>
<circle cx="44.7" cy="319.8" r="5.9" fill="#c2644b"/>
<circle cx="77.0" cy="319.8" r="2.2" fill="#c6b2f0"/>
<circle cx="109.7" cy="319.8" r="3.2" fill="#8a64df"/>
<circle cx="44.7" cy="352.1" r="0.4" fill="#f4eeee"/>
<circle cx="77.0" cy="352.1" r="9.9" fill="#8e1a04"/>
<circle cx="44.7" cy="384.4" r="2.5" fill="#d2bdf2"/>
<circle cx="77.0" cy="384.4" r="8.7" fill="#7c58d8"/>
<circle cx="109.7" cy="384.4" r="9.9" fill="#c2644b"/>
<text x="133" y="255.6" font-size="6.8" fill="#000" stroke="#000">−log<tspan font-size="4.8" dy="1.3">10</tspan><tspan dy="-1.3"> adj p−value</tspan></text>
<circle cx="145.7" cy="264.4" r="3.9" fill="#000"/>
<text x="159.30" y="266.80" font-size="6.6" text-anchor="start" fill="#1a1a1a" stroke="#1a1a1a" >20</text>
<circle cx="145.7" cy="277.2" r="6.4" fill="#000"/>
<text x="159.30" y="279.60" font-size="6.6" text-anchor="start" fill="#1a1a1a" stroke="#1a1a1a" >40</text>
<circle cx="145.7" cy="298.2" r="10.0" fill="#000"/>
<text x="159.30" y="300.60" font-size="6.6" text-anchor="start" fill="#1a1a1a" stroke="#1a1a1a" >60</text>
<text x="133.00" y="322.00" font-size="6.8" text-anchor="start" fill="#000" stroke="#000" >NES</text>
<defs><linearGradient id="nes" x1="0" y1="0" x2="0" y2="1"><stop offset="0" stop-color="#8b1a00"/><stop offset="0.3" stop-color="#d0806a"/><stop offset="0.6" stop-color="#ffffff"/><stop offset="0.8" stop-color="#b9a4ee"/><stop offset="1" stop-color="#7b55d8"/></linearGradient><linearGradient id="fe" x1="0" y1="0" x2="0" y2="1"><stop offset="0" stop-color="#9a1a00"/><stop offset="0.5" stop-color="#74344a"/><stop offset="1" stop-color="#4a5590"/></linearGradient></defs>
<rect x="132.6" y="323.8" width="9.3" height="65.4" fill="url(#nes)"/>
<text x="143.00" y="327.40" font-size="6.6" text-anchor="start" fill="#1a1a1a" stroke="#1a1a1a" >6</text>
<text x="143.00" y="340.10" font-size="6.6" text-anchor="start" fill="#1a1a1a" stroke="#1a1a1a" >4</text>
<text x="143.00" y="352.80" font-size="6.6" text-anchor="start" fill="#1a1a1a" stroke="#1a1a1a" >2</text>
<text x="143.00" y="365.50" font-size="6.6" text-anchor="start" fill="#1a1a1a" stroke="#1a1a1a" >0</text>
<text x="143.00" y="378.20" font-size="6.6" text-anchor="start" fill="#1a1a1a" stroke="#1a1a1a" >−2</text>
<text x="143.00" y="390.90" font-size="6.6" text-anchor="start" fill="#1a1a1a" stroke="#1a1a1a" >−4</text>
<rect x="303.30" y="239.15" width="118.10" height="20.90" fill="#8e1600"/>
<line x1="294.80" y1="249.60" x2="297.80" y2="249.60" stroke="#333" stroke-width="0.65" />
<text x="293.80" y="251.60" font-size="5.2" text-anchor="end" fill="#111" stroke="#111" stroke-width="0.1" >Apoptotic cleavage of cell adhesion proteins</text>
<rect x="303.30" y="262.55" width="93.40" height="20.90" fill="#564b73"/>
<line x1="294.80" y1="273.00" x2="297.80" y2="273.00" stroke="#333" stroke-width="0.65" />
<text x="293.80" y="275.00" font-size="5.2" text-anchor="end" fill="#111" stroke="#111" stroke-width="0.1" >Phase 1 − Functionalization of compounds</text>
<rect x="303.30" y="285.95" width="92.00" height="20.90" fill="#475080"/>
<line x1="294.80" y1="296.40" x2="297.80" y2="296.40" stroke="#333" stroke-width="0.65" />
<text x="293.80" y="298.40" font-size="5.2" text-anchor="end" fill="#111" stroke="#111" stroke-width="0.1" >Cell−Cell communication</text>
<rect x="303.30" y="309.35" width="92.20" height="20.90" fill="#6a4762"/>
<line x1="294.80" y1="319.80" x2="297.80" y2="319.80" stroke="#333" stroke-width="0.65" />
<text x="293.80" y="321.80" font-size="5.2" text-anchor="end" fill="#111" stroke="#111" stroke-width="0.1" >Apoptotic cleavage of cellular proteins</text>
<rect x="303.30" y="332.75" width="88.30" height="20.90" fill="#594b74"/>
<line x1="294.80" y1="343.20" x2="297.80" y2="343.20" stroke="#333" stroke-width="0.65" />
<text x="293.80" y="345.20" font-size="5.2" text-anchor="end" fill="#111" stroke="#111" stroke-width="0.1" >Cell−cell junction organization</text>
<rect x="303.30" y="356.15" width="86.70" height="20.90" fill="#4e4f7d"/>
<line x1="294.80" y1="366.60" x2="297.80" y2="366.60" stroke="#333" stroke-width="0.65" />
<text x="293.80" y="368.60" font-size="5.2" text-anchor="end" fill="#111" stroke="#111" stroke-width="0.1" >Cell junction organization</text>
<rect x="303.30" y="379.55" width="68.90" height="20.90" fill="#594b74"/>
<line x1="294.80" y1="390.00" x2="297.80" y2="390.00" stroke="#333" stroke-width="0.65" />
<text x="293.80" y="392.00" font-size="5.2" text-anchor="end" fill="#111" stroke="#111" stroke-width="0.1" >Apoptotic execution phase</text>
<line x1="363.5" y1="237" x2="363.5" y2="403.80" stroke="#6a6a6a" stroke-width="0.75" stroke-dasharray="1 1"/>
<line x1="297.50" y1="235.50" x2="297.50" y2="404.10" stroke="#555555" stroke-width="0.6" />
<line x1="297.20" y1="403.50" x2="427.30" y2="403.50" stroke="#555555" stroke-width="0.6" />
<line x1="303.30" y1="403.80" x2="303.30" y2="406.80" stroke="#333" stroke-width="0.65" />
<text x="303.30" y="411.60" font-size="5.6" text-anchor="middle" fill="#333333" >0</text>
<line x1="349.60" y1="403.80" x2="349.60" y2="406.80" stroke="#333" stroke-width="0.65" />
<text x="349.60" y="411.60" font-size="5.6" text-anchor="middle" fill="#333333" >1</text>
<line x1="395.90" y1="403.80" x2="395.90" y2="406.80" stroke="#333" stroke-width="0.65" />
<text x="395.90" y="411.60" font-size="5.6" text-anchor="middle" fill="#333333" >2</text>
<text x="362.55" y="233.00" font-size="6.8" text-anchor="middle" fill="#000" stroke="#000" >M1 over−represented pathways</text>
<text x="362.55" y="426.70" font-size="6.8" text-anchor="middle" fill="#000" stroke="#000" >−log10(padj)</text>
<rect x="559.30" y="238.10" width="118.50" height="14.70" fill="#842c2c"/>
<line x1="550.80" y1="245.45" x2="553.80" y2="245.45" stroke="#333" stroke-width="0.65" />
<text x="549.80" y="247.45" font-size="5.2" text-anchor="end" fill="#111" stroke="#111" stroke-width="0.1" >Chemokine receptors bind chemokines</text>
<rect x="559.30" y="254.61" width="69.50" height="14.70" fill="#931800"/>
<line x1="550.80" y1="261.96" x2="553.80" y2="261.96" stroke="#333" stroke-width="0.65" />
<text x="549.80" y="263.96" font-size="5.2" text-anchor="end" fill="#111" stroke="#111" stroke-width="0.1" >Translocation of ZAP−70 to Immunological synapse</text>
<rect x="559.30" y="271.12" width="69.50" height="14.70" fill="#8e1e10"/>
<line x1="550.80" y1="278.47" x2="553.80" y2="278.47" stroke="#333" stroke-width="0.65" />
<text x="549.80" y="280.47" font-size="5.2" text-anchor="end" fill="#111" stroke="#111" stroke-width="0.1" >Phosphorylation of CD3 and TCR zeta chains</text>
<rect x="559.30" y="287.63" width="67.90" height="14.70" fill="#8b2318"/>
<line x1="550.80" y1="294.98" x2="553.80" y2="294.98" stroke="#333" stroke-width="0.65" />
<text x="549.80" y="296.98" font-size="5.2" text-anchor="end" fill="#111" stroke="#111" stroke-width="0.1" >PD−1 signaling</text>
<rect x="559.30" y="304.14" width="60.70" height="14.70" fill="#7b3038"/>
<line x1="550.80" y1="311.49" x2="553.80" y2="311.49" stroke="#333" stroke-width="0.65" />
<text x="549.80" y="313.49" font-size="5.2" text-anchor="end" fill="#111" stroke="#111" stroke-width="0.1" >Generation of second messenger molecules</text>
<rect x="559.30" y="320.65" width="60.70" height="14.70" fill="#6a3f5f"/>
<line x1="550.80" y1="328.00" x2="553.80" y2="328.00" stroke="#333" stroke-width="0.65" />
<text x="549.80" y="330.00" font-size="5.2" text-anchor="end" fill="#111" stroke="#111" stroke-width="0.1" >Costimulation by the CD28 family</text>
<rect x="559.30" y="337.16" width="57.80" height="14.70" fill="#4a5089"/>
<line x1="550.80" y1="344.51" x2="553.80" y2="344.51" stroke="#333" stroke-width="0.65" />
<text x="549.80" y="346.51" font-size="5.2" text-anchor="end" fill="#111" stroke="#111" stroke-width="0.1" >Peptide ligand−binding receptors</text>
<rect x="559.30" y="353.67" width="55.60" height="14.70" fill="#743548"/>
<line x1="550.80" y1="361.02" x2="553.80" y2="361.02" stroke="#333" stroke-width="0.65" />
<text x="549.80" y="363.02" font-size="5.2" text-anchor="end" fill="#111" stroke="#111" stroke-width="0.1" >Downstream TCR signaling</text>
<rect x="559.30" y="370.18" width="47.00" height="14.70" fill="#4e4c80"/>
<line x1="550.80" y1="377.53" x2="553.80" y2="377.53" stroke="#333" stroke-width="0.65" />
<text x="549.80" y="376.53" font-size="5.2" text-anchor="end" fill="#111" stroke="#111" stroke-width="0.1" >Immunoregulatory interactions between a Lymphoid</text>
<text x="549.80" y="381.83" font-size="5.2" text-anchor="end" fill="#111" stroke="#111" stroke-width="0.1" >and a non−Lymphoid cell</text>
<rect x="559.30" y="386.69" width="46.40" height="14.70" fill="#623d63"/>
<line x1="550.80" y1="394.04" x2="553.80" y2="394.04" stroke="#333" stroke-width="0.65" />
<text x="549.80" y="396.04" font-size="5.2" text-anchor="end" fill="#111" stroke="#111" stroke-width="0.1" >TCR signaling</text>
<line x1="587.5" y1="237" x2="587.5" y2="403.80" stroke="#6a6a6a" stroke-width="0.75" stroke-dasharray="1 1"/>
<line x1="553.50" y1="235.50" x2="553.50" y2="404.10" stroke="#555555" stroke-width="0.6" />
<line x1="553.20" y1="403.50" x2="684.00" y2="403.50" stroke="#555555" stroke-width="0.6" />
<line x1="559.30" y1="403.80" x2="559.30" y2="406.80" stroke="#333" stroke-width="0.65" />
<text x="559.30" y="411.60" font-size="5.6" text-anchor="middle" fill="#333333" >0</text>
<line x1="602.30" y1="403.80" x2="602.30" y2="406.80" stroke="#333" stroke-width="0.65" />
<text x="602.30" y="411.60" font-size="5.6" text-anchor="middle" fill="#333333" >2</text>
<line x1="645.30" y1="403.80" x2="645.30" y2="406.80" stroke="#333" stroke-width="0.65" />
<text x="645.30" y="411.60" font-size="5.6" text-anchor="middle" fill="#333333" >4</text>
<text x="618.90" y="233.00" font-size="6.8" text-anchor="middle" fill="#000" stroke="#000" >M2 over−represented pathways</text>
<text x="618.90" y="426.70" font-size="6.8" text-anchor="middle" fill="#000" stroke="#000" >−log10(padj)</text>
<text x="633.90" y="338.20" font-size="6.8" text-anchor="start" fill="#000" stroke="#000" >FoldEnrichment</text>
<rect x="633.9" y="340.5" width="5.1" height="50.5" fill="url(#fe)"/>
<text x="640.40" y="344.30" font-size="5.6" text-anchor="start" fill="#1a1a1a" >30</text>
<text x="640.40" y="355.10" font-size="5.6" text-anchor="start" fill="#1a1a1a" >25</text>
<text x="640.40" y="365.40" font-size="5.6" text-anchor="start" fill="#1a1a1a" >20</text>
<text x="640.40" y="375.60" font-size="5.6" text-anchor="start" fill="#1a1a1a" >15</text>
<text x="640.40" y="385.80" font-size="5.6" text-anchor="start" fill="#1a1a1a" >10</text>
<path d="M51.50 546.60 L51.49 548.10 L51.48 550.26 L51.46 552.60 L51.40 554.60 L51.33 556.19 L51.25 557.61 L51.12 558.88 L50.90 560.00 L50.62 560.88 L50.29 561.54 L49.84 562.19 L49.20 563.00 L48.33 564.03 L47.26 565.17 L46.09 566.40 L44.90 567.70 L43.63 569.13 L42.26 570.67 L40.94 572.20 L39.80 573.60 L38.87 574.77 L38.08 575.81 L37.42 576.84 L36.90 578.00 L36.57 579.38 L36.41 580.90 L36.32 582.42 L36.20 583.80 L36.06 584.97 L35.94 586.00 L35.78 587.03 L35.50 588.20 L35.03 589.62 L34.41 591.19 L33.79 592.72 L33.30 594.00 L32.84 594.89 L32.38 595.54 L32.16 596.14 L32.40 596.90 L33.23 597.86 L34.49 598.91 L36.04 600.06 L37.70 601.30 L39.59 602.71 L41.76 604.27 L43.89 605.82 L45.70 607.20 L47.08 608.42 L48.19 609.56 L49.16 610.51 L50.10 611.20 L51.08 611.52 L52.03 611.55 L52.83 611.45 L53.40 611.40 L54.00 611.40 L54.57 611.45 L55.38 611.55 L56.32 611.52 L57.30 611.20 L58.24 610.51 L59.21 609.56 L60.32 608.42 L61.70 607.20 L63.51 605.82 L65.64 604.27 L67.81 602.71 L69.70 601.30 L71.36 600.06 L72.91 598.91 L74.17 597.86 L75.00 596.90 L75.24 596.14 L75.02 595.54 L74.56 594.89 L74.10 594.00 L73.61 592.72 L72.99 591.19 L72.38 589.62 L71.90 588.20 L71.62 587.03 L71.46 586.00 L71.34 584.97 L71.20 583.80 L71.08 582.42 L70.99 580.90 L70.83 579.38 L70.50 578.00 L69.98 576.84 L69.33 575.81 L68.53 574.77 L67.60 573.60 L66.46 572.20 L65.14 570.67 L63.77 569.13 L62.50 567.70 L61.31 566.40 L60.14 565.17 L59.07 564.03 L58.20 563.00 L57.56 562.19 L57.11 561.54 L56.78 560.88 L56.50 560.00 L56.28 558.88 L56.15 557.61 L56.07 556.19 L56.00 554.60 L55.94 552.60 L55.92 550.26 L55.91 548.10 L55.90 546.60Z" fill="#b3b3b3" stroke="#5e5e5e" stroke-width="0.45" stroke-linejoin="round"/>
<line x1="45.70" y1="589.80" x2="61.70" y2="589.80" stroke="#000" stroke-width="1.5" />
<path d="M99.00 506.10 L98.96 508.26 L98.89 511.39 L98.81 514.73 L98.70 517.50 L98.56 519.52 L98.41 521.18 L98.22 522.63 L98.00 524.00 L97.77 525.27 L97.53 526.38 L97.22 527.42 L96.80 528.50 L96.22 529.63 L95.53 530.77 L94.77 531.90 L94.00 533.00 L93.22 534.10 L92.41 535.21 L91.56 536.26 L90.70 537.20 L89.79 537.89 L88.85 538.41 L87.91 539.02 L87.00 540.00 L86.12 541.51 L85.26 543.37 L84.44 545.37 L83.70 547.30 L83.05 549.12 L82.47 550.95 L81.95 552.77 L81.50 554.60 L81.12 556.32 L80.81 557.97 L80.55 559.77 L80.30 561.90 L80.01 564.55 L79.72 567.57 L79.51 570.68 L79.50 573.60 L79.76 576.32 L80.21 578.98 L80.74 581.49 L81.20 583.80 L81.50 585.83 L81.73 587.63 L82.05 589.34 L82.60 591.10 L83.49 592.96 L84.61 594.84 L85.83 596.68 L87.00 598.40 L88.10 599.99 L89.20 601.49 L90.30 602.90 L91.40 604.20 L92.50 605.46 L93.60 606.65 L94.70 607.67 L95.80 608.40 L97.00 608.74 L98.28 608.76 L99.41 608.66 L100.20 608.60 L100.80 608.60 L101.59 608.66 L102.72 608.76 L104.00 608.74 L105.20 608.40 L106.30 607.67 L107.40 606.65 L108.50 605.46 L109.60 604.20 L110.70 602.90 L111.80 601.49 L112.90 599.99 L114.00 598.40 L115.17 596.68 L116.39 594.84 L117.51 592.96 L118.40 591.10 L118.95 589.34 L119.27 587.63 L119.50 585.83 L119.80 583.80 L120.26 581.49 L120.79 578.98 L121.24 576.32 L121.50 573.60 L121.49 570.68 L121.28 567.57 L120.99 564.55 L120.70 561.90 L120.45 559.77 L120.19 557.97 L119.88 556.32 L119.50 554.60 L119.05 552.77 L118.53 550.95 L117.95 549.12 L117.30 547.30 L116.56 545.37 L115.74 543.37 L114.88 541.51 L114.00 540.00 L113.09 539.02 L112.15 538.41 L111.21 537.89 L110.30 537.20 L109.44 536.26 L108.59 535.21 L107.78 534.10 L107.00 533.00 L106.23 531.90 L105.47 530.77 L104.78 529.63 L104.20 528.50 L103.78 527.42 L103.47 526.38 L103.23 525.27 L103.00 524.00 L102.78 522.63 L102.59 521.18 L102.44 519.52 L102.30 517.50 L102.19 514.73 L102.11 511.39 L102.04 508.26 L102.00 506.10Z" fill="#911400" stroke="#3a0800" stroke-width="0.45" stroke-linejoin="round"/>
<line x1="92.50" y1="572.90" x2="108.50" y2="572.90" stroke="#000" stroke-width="1.5" />
<path d="M147.25 509.90 L147.17 511.79 L147.04 514.51 L146.91 517.45 L146.80 520.00 L146.74 521.94 L146.70 523.62 L146.63 525.26 L146.50 527.10 L146.28 529.21 L146.00 531.48 L145.67 533.80 L145.30 536.10 L144.93 538.37 L144.55 540.65 L144.07 542.93 L143.40 545.20 L142.45 547.50 L141.29 549.82 L140.09 552.08 L139.00 554.20 L138.02 556.19 L137.09 558.08 L136.26 559.83 L135.60 561.40 L135.16 562.78 L134.91 563.98 L134.74 565.04 L134.60 566.00 L134.50 566.79 L134.48 567.43 L134.44 568.03 L134.30 568.70 L133.99 569.47 L133.58 570.27 L133.15 571.11 L132.80 572.00 L132.55 572.96 L132.34 573.99 L132.17 575.02 L132.00 576.00 L131.84 576.91 L131.69 577.78 L131.55 578.64 L131.40 579.50 L131.25 580.36 L131.11 581.22 L130.96 582.09 L130.80 583.00 L130.63 583.98 L130.45 585.01 L130.25 586.03 L130.00 587.00 L129.71 587.85 L129.38 588.61 L129.01 589.42 L128.60 590.40 L128.02 591.61 L127.30 592.97 L126.73 594.40 L126.60 595.80 L126.98 597.17 L127.72 598.56 L128.76 599.91 L130.00 601.20 L131.62 602.44 L133.59 603.64 L135.56 604.75 L137.20 605.70 L138.29 606.48 L139.04 607.12 L139.78 607.62 L140.80 608.00 L142.37 608.20 L144.28 608.24 L146.06 608.21 L147.30 608.20 L147.90 608.20 L149.14 608.21 L150.92 608.24 L152.83 608.20 L154.40 608.00 L155.42 607.62 L156.16 607.12 L156.91 606.48 L158.00 605.70 L159.64 604.75 L161.61 603.64 L163.58 602.44 L165.20 601.20 L166.44 599.91 L167.47 598.56 L168.22 597.17 L168.60 595.80 L168.47 594.40 L167.90 592.97 L167.18 591.61 L166.60 590.40 L166.19 589.42 L165.82 588.61 L165.49 587.85 L165.20 587.00 L164.95 586.03 L164.75 585.01 L164.57 583.98 L164.40 583.00 L164.24 582.09 L164.09 581.22 L163.95 580.36 L163.80 579.50 L163.65 578.64 L163.51 577.78 L163.36 576.91 L163.20 576.00 L163.03 575.02 L162.86 573.99 L162.65 572.96 L162.40 572.00 L162.05 571.11 L161.62 570.27 L161.21 569.47 L160.90 568.70 L160.76 568.03 L160.72 567.43 L160.70 566.79 L160.60 566.00 L160.46 565.04 L160.29 563.98 L160.04 562.78 L159.60 561.40 L158.94 559.83 L158.11 558.08 L157.18 556.19 L156.20 554.20 L155.11 552.08 L153.91 549.82 L152.75 547.50 L151.80 545.20 L151.13 542.93 L150.65 540.65 L150.27 538.37 L149.90 536.10 L149.53 533.80 L149.20 531.48 L148.92 529.21 L148.70 527.10 L148.57 525.26 L148.50 523.62 L148.46 521.94 L148.40 520.00 L148.29 517.45 L148.16 514.51 L148.03 511.79 L147.95 509.90Z" fill="#0b4f92" stroke="#06284a" stroke-width="0.45" stroke-linejoin="round"/>
<line x1="139.60" y1="584.70" x2="155.60" y2="584.70" stroke="#000" stroke-width="1.5" />
<path d="M100.50 459.90V458.60H147.60V459.90" fill="none" stroke="#6e6e6e" stroke-width="0.5"/>
<text x="124.05" y="456.80" font-size="6.6" text-anchor="middle" fill="#000" stroke="#000" >p = 1.06e−07</text>
<path d="M53.70 480.90V479.60H147.60V480.90" fill="none" stroke="#6e6e6e" stroke-width="0.5"/>
<text x="100.65" y="477.80" font-size="6.6" text-anchor="middle" fill="#000" stroke="#000" >p = 0.001</text>
<path d="M53.70 502.00V500.70H100.50V502.00" fill="none" stroke="#6e6e6e" stroke-width="0.5"/>
<text x="77.10" y="498.90" font-size="6.6" text-anchor="middle" fill="#000" stroke="#000" >p = 2.8e−11</text>
<line x1="25.50" y1="451.00" x2="25.50" y2="619.30" stroke="#555555" stroke-width="0.6" />
<line x1="25.20" y1="619.50" x2="174.70" y2="619.50" stroke="#555555" stroke-width="0.6" />
<line x1="23.00" y1="616.80" x2="25.50" y2="616.80" stroke="#333" stroke-width="0.65" />
<text x="22.10" y="618.60" font-size="5.0" text-anchor="end" fill="#333333" >−0.5</text>
<line x1="23.00" y1="577.20" x2="25.50" y2="577.20" stroke="#333" stroke-width="0.65" />
<text x="22.10" y="579.00" font-size="5.0" text-anchor="end" fill="#333333" >0.0</text>
<line x1="23.00" y1="537.60" x2="25.50" y2="537.60" stroke="#333" stroke-width="0.65" />
<text x="22.10" y="539.40" font-size="5.0" text-anchor="end" fill="#333333" >0.5</text>
<line x1="23.00" y1="498.00" x2="25.50" y2="498.00" stroke="#333" stroke-width="0.65" />
<text x="22.10" y="499.80" font-size="5.0" text-anchor="end" fill="#333333" >1.0</text>
<line x1="23.00" y1="458.40" x2="25.50" y2="458.40" stroke="#333" stroke-width="0.65" />
<text x="22.10" y="460.20" font-size="5.0" text-anchor="end" fill="#333333" >1.5</text>
<line x1="53.70" y1="619.00" x2="53.70" y2="621.60" stroke="#333" stroke-width="0.65" />
<line x1="100.50" y1="619.00" x2="100.50" y2="621.60" stroke="#333" stroke-width="0.65" />
<line x1="147.60" y1="619.00" x2="147.60" y2="621.60" stroke="#333" stroke-width="0.65" />
<text x="53.70" y="627.80" font-size="6.8" text-anchor="middle" fill="#262626" stroke="#262626" >HIV−</text>
<text x="100.50" y="627.80" font-size="6.8" text-anchor="middle" fill="#262626" stroke="#262626" >PLHIV</text>
<text x="100.50" y="634.80" font-size="6.8" text-anchor="middle" fill="#262626" stroke="#262626" >ART&lt;3m</text>
<text x="147.60" y="627.80" font-size="6.8" text-anchor="middle" fill="#262626" stroke="#262626" >PLHIV</text>
<text x="147.60" y="634.80" font-size="6.8" text-anchor="middle" fill="#262626" stroke="#262626" >ART&gt;1yr</text>
<text x="100.10" y="448.00" font-size="6.8" text-anchor="middle" fill="#000" stroke="#000" >Exhaustion &amp; Senescence genes</text>
<text transform="translate(7.30,535.10) rotate(-90)" font-size="6.8" text-anchor="middle" fill="#000" stroke="#000">Module Expression</text>
<path d="M218.30 540.10 L218.01 541.59 L217.61 543.74 L217.01 546.10 L216.10 548.20 L214.76 549.94 L213.07 551.54 L211.25 553.11 L209.50 554.70 L207.79 556.29 L206.04 557.86 L204.40 559.50 L203.00 561.30 L201.82 563.38 L200.81 565.65 L200.06 567.92 L199.70 570.00 L199.89 571.82 L200.53 573.50 L201.30 575.08 L201.90 576.60 L202.33 578.00 L202.72 579.28 L202.98 580.60 L203.00 582.10 L202.64 583.90 L201.99 585.89 L201.29 587.91 L200.80 589.80 L200.47 591.51 L200.22 593.12 L200.18 594.70 L200.50 596.30 L201.26 597.97 L202.36 599.66 L203.70 601.32 L205.20 602.90 L207.01 604.43 L209.12 605.92 L211.18 607.28 L212.80 608.40 L213.77 609.23 L214.33 609.83 L214.80 610.27 L215.50 610.60 L216.64 610.80 L218.02 610.84 L219.31 610.81 L220.20 610.80 L220.80 610.80 L221.69 610.81 L222.98 610.84 L224.36 610.80 L225.50 610.60 L226.20 610.27 L226.67 609.83 L227.23 609.23 L228.20 608.40 L229.82 607.28 L231.88 605.92 L233.99 604.43 L235.80 602.90 L237.30 601.32 L238.64 599.66 L239.74 597.97 L240.50 596.30 L240.82 594.70 L240.78 593.12 L240.53 591.51 L240.20 589.80 L239.71 587.91 L239.01 585.89 L238.36 583.90 L238.00 582.10 L238.02 580.60 L238.28 579.28 L238.67 578.00 L239.10 576.60 L239.70 575.08 L240.47 573.50 L241.11 571.82 L241.30 570.00 L240.94 567.92 L240.19 565.65 L239.18 563.38 L238.00 561.30 L236.60 559.50 L234.96 557.86 L233.21 556.29 L231.50 554.70 L229.75 553.11 L227.93 551.54 L226.24 549.94 L224.90 548.20 L223.99 546.10 L223.39 543.74 L222.99 541.59 L222.70 540.10Z" fill="#b3b3b3" stroke="#5e5e5e" stroke-width="0.45" stroke-linejoin="round"/>
<line x1="212.50" y1="583.90" x2="228.50" y2="583.90" stroke="#000" stroke-width="1.5" />
<path d="M265.60 508.10 L265.37 509.75 L265.04 512.11 L264.60 514.82 L264.00 517.50 L263.22 520.14 L262.27 522.91 L261.22 525.72 L260.10 528.50 L258.88 531.23 L257.56 533.95 L256.21 536.67 L254.90 539.40 L253.62 542.04 L252.33 544.62 L251.11 547.35 L250.00 550.40 L248.98 553.97 L248.02 557.92 L247.23 561.93 L246.70 565.70 L246.48 569.18 L246.51 572.52 L246.74 575.72 L247.10 578.80 L247.59 581.78 L248.23 584.64 L249.03 587.34 L250.00 589.80 L251.22 592.02 L252.66 594.04 L254.15 595.83 L255.50 597.40 L256.59 598.74 L257.53 599.86 L258.54 600.75 L259.80 601.40 L261.61 601.72 L263.77 601.75 L265.80 601.65 L267.20 601.60 L267.80 601.60 L269.20 601.65 L271.23 601.75 L273.39 601.72 L275.20 601.40 L276.46 600.75 L277.47 599.86 L278.41 598.74 L279.50 597.40 L280.85 595.83 L282.34 594.04 L283.78 592.02 L285.00 589.80 L285.97 587.34 L286.77 584.64 L287.41 581.78 L287.90 578.80 L288.26 575.72 L288.49 572.52 L288.52 569.18 L288.30 565.70 L287.77 561.93 L286.98 557.92 L286.02 553.97 L285.00 550.40 L283.89 547.35 L282.67 544.62 L281.38 542.04 L280.10 539.40 L278.79 536.67 L277.44 533.95 L276.12 531.23 L274.90 528.50 L273.78 525.72 L272.73 522.91 L271.78 520.14 L271.00 517.50 L270.40 514.82 L269.96 512.11 L269.63 509.75 L269.40 508.10Z" fill="#911400" stroke="#3a0800" stroke-width="0.45" stroke-linejoin="round"/>
<line x1="259.50" y1="568.50" x2="275.50" y2="568.50" stroke="#000" stroke-width="1.5" />
<path d="M314.30 506.10 L314.21 508.30 L314.07 511.48 L313.92 514.94 L313.80 518.00 L313.75 520.52 L313.73 522.84 L313.68 525.02 L313.50 527.10 L313.19 529.03 L312.79 530.82 L312.30 532.54 L311.70 534.30 L310.95 536.10 L310.06 537.90 L309.14 539.70 L308.30 541.50 L307.58 543.30 L306.92 545.09 L306.27 546.89 L305.60 548.70 L304.93 550.52 L304.28 552.35 L303.56 554.18 L302.70 556.00 L301.58 557.81 L300.27 559.61 L298.98 561.40 L297.90 563.20 L297.12 564.96 L296.52 566.69 L296.01 568.47 L295.50 570.40 L294.90 572.57 L294.28 574.90 L293.79 577.23 L293.60 579.40 L293.74 581.32 L294.14 583.11 L294.76 584.84 L295.60 586.60 L296.76 588.42 L298.23 590.25 L299.75 592.08 L301.10 593.90 L302.19 595.71 L303.16 597.51 L304.10 599.30 L305.10 601.10 L306.23 603.01 L307.41 604.98 L308.57 606.82 L309.60 608.30 L310.49 609.35 L311.28 610.09 L311.98 610.61 L312.60 611.00 L313.16 611.23 L313.64 611.27 L314.03 611.22 L314.30 611.20 L314.90 611.20 L315.18 611.22 L315.56 611.27 L316.04 611.23 L316.60 611.00 L317.22 610.61 L317.93 610.09 L318.71 609.35 L319.60 608.30 L320.63 606.82 L321.79 604.98 L322.98 603.01 L324.10 601.10 L325.10 599.30 L326.04 597.51 L327.01 595.71 L328.10 593.90 L329.45 592.08 L330.98 590.25 L332.44 588.42 L333.60 586.60 L334.44 584.84 L335.06 583.11 L335.46 581.32 L335.60 579.40 L335.41 577.23 L334.93 574.90 L334.30 572.57 L333.70 570.40 L333.19 568.47 L332.68 566.69 L332.08 564.96 L331.30 563.20 L330.22 561.40 L328.93 559.61 L327.62 557.81 L326.50 556.00 L325.64 554.18 L324.92 552.35 L324.27 550.52 L323.60 548.70 L322.93 546.89 L322.28 545.09 L321.62 543.30 L320.90 541.50 L320.06 539.70 L319.14 537.90 L318.25 536.10 L317.50 534.30 L316.90 532.54 L316.41 530.82 L316.01 529.03 L315.70 527.10 L315.52 525.02 L315.47 522.84 L315.45 520.52 L315.40 518.00 L315.28 514.94 L315.13 511.48 L314.99 508.30 L314.90 506.10Z" fill="#0b4f92" stroke="#06284a" stroke-width="0.45" stroke-linejoin="round"/>
<line x1="306.60" y1="578.40" x2="322.60" y2="578.40" stroke="#000" stroke-width="1.5" />
<path d="M267.50 459.90V458.60H314.60V459.90" fill="none" stroke="#6e6e6e" stroke-width="0.5"/>
<text x="291.05" y="456.80" font-size="6.6" text-anchor="middle" fill="#000" stroke="#000" >p = 2.06e−06</text>
<path d="M220.50 480.90V479.60H314.60V480.90" fill="none" stroke="#6e6e6e" stroke-width="0.5"/>
<text x="267.55" y="477.80" font-size="6.6" text-anchor="middle" fill="#000" stroke="#000" >p = 0.004</text>
<path d="M220.50 502.00V500.70H267.50V502.00" fill="none" stroke="#6e6e6e" stroke-width="0.5"/>
<text x="244.00" y="498.90" font-size="6.6" text-anchor="middle" fill="#000" stroke="#000" >p = 4.2e−09</text>
<line x1="192.50" y1="451.00" x2="192.50" y2="619.30" stroke="#555555" stroke-width="0.6" />
<line x1="192.20" y1="619.50" x2="342.00" y2="619.50" stroke="#555555" stroke-width="0.6" />
<line x1="189.80" y1="583.30" x2="192.30" y2="583.30" stroke="#333" stroke-width="0.65" />
<text x="188.90" y="585.10" font-size="5.0" text-anchor="end" fill="#333333" >0</text>
<line x1="189.80" y1="544.80" x2="192.30" y2="544.80" stroke="#333" stroke-width="0.65" />
<text x="188.90" y="546.60" font-size="5.0" text-anchor="end" fill="#333333" >1</text>
<line x1="189.80" y1="506.30" x2="192.30" y2="506.30" stroke="#333" stroke-width="0.65" />
<text x="188.90" y="508.10" font-size="5.0" text-anchor="end" fill="#333333" >2</text>
<line x1="189.80" y1="467.80" x2="192.30" y2="467.80" stroke="#333" stroke-width="0.65" />
<text x="188.90" y="469.60" font-size="5.0" text-anchor="end" fill="#333333" >3</text>
<line x1="220.50" y1="619.00" x2="220.50" y2="621.60" stroke="#333" stroke-width="0.65" />
<line x1="267.50" y1="619.00" x2="267.50" y2="621.60" stroke="#333" stroke-width="0.65" />
<line x1="314.60" y1="619.00" x2="314.60" y2="621.60" stroke="#333" stroke-width="0.65" />
<text x="220.50" y="627.80" font-size="6.8" text-anchor="middle" fill="#262626" stroke="#262626" >HIV−</text>
<text x="267.50" y="627.80" font-size="6.8" text-anchor="middle" fill="#262626" stroke="#262626" >PLHIV</text>
<text x="267.50" y="634.80" font-size="6.8" text-anchor="middle" fill="#262626" stroke="#262626" >ART&lt;3m</text>
<text x="314.60" y="627.80" font-size="6.8" text-anchor="middle" fill="#262626" stroke="#262626" >PLHIV</text>
<text x="314.60" y="634.80" font-size="6.8" text-anchor="middle" fill="#262626" stroke="#262626" >ART&gt;1yr</text>
<text x="267.15" y="448.00" font-size="6.8" text-anchor="middle" fill="#000" stroke="#000" >T cell activation genes</text>
<text transform="translate(184.00,535.10) rotate(-90)" font-size="6.8" text-anchor="middle" fill="#000" stroke="#000">Module Expression</text>
<path d="M392.00 551.40 L391.92 552.53 L391.83 554.15 L391.62 555.99 L391.20 557.80 L390.50 559.54 L389.59 561.35 L388.56 563.18 L387.50 565.00 L386.37 566.84 L385.14 568.71 L383.94 570.53 L382.90 572.20 L382.01 573.68 L381.21 575.01 L380.56 576.29 L380.10 577.60 L379.92 578.95 L379.98 580.30 L380.09 581.65 L380.10 583.00 L380.00 584.35 L379.88 585.69 L379.66 587.04 L379.30 588.40 L378.75 589.79 L378.06 591.21 L377.29 592.59 L376.50 593.90 L375.45 595.10 L374.19 596.21 L373.23 597.30 L373.10 598.40 L374.05 599.52 L375.77 600.65 L377.90 601.77 L380.10 602.90 L382.50 604.11 L385.23 605.37 L387.86 606.53 L390.00 607.40 L391.55 607.90 L392.72 608.13 L393.58 608.22 L394.20 608.30 L394.80 608.30 L395.42 608.22 L396.28 608.13 L397.45 607.90 L399.00 607.40 L401.14 606.53 L403.77 605.37 L406.50 604.11 L408.90 602.90 L411.10 601.77 L413.23 600.65 L414.95 599.52 L415.90 598.40 L415.77 597.30 L414.81 596.21 L413.55 595.10 L412.50 593.90 L411.71 592.59 L410.94 591.21 L410.25 589.79 L409.70 588.40 L409.34 587.04 L409.12 585.69 L409.00 584.35 L408.90 583.00 L408.91 581.65 L409.02 580.30 L409.08 578.95 L408.90 577.60 L408.44 576.29 L407.79 575.01 L406.99 573.68 L406.10 572.20 L405.06 570.53 L403.86 568.71 L402.63 566.84 L401.50 565.00 L400.44 563.18 L399.41 561.35 L398.50 559.54 L397.80 557.80 L397.38 555.99 L397.17 554.15 L397.08 552.53 L397.00 551.40Z" fill="#b3b3b3" stroke="#5e5e5e" stroke-width="0.45" stroke-linejoin="round"/>
<line x1="386.50" y1="592.00" x2="402.50" y2="592.00" stroke="#000" stroke-width="1.5" />
<path d="M441.00 544.80 L440.88 546.54 L440.71 549.05 L440.49 551.78 L440.20 554.20 L439.84 556.15 L439.42 557.94 L438.94 559.65 L438.40 561.40 L437.80 563.24 L437.13 565.11 L436.42 566.93 L435.70 568.60 L434.92 570.08 L434.09 571.41 L433.29 572.69 L432.60 574.00 L432.02 575.35 L431.51 576.70 L431.09 578.05 L430.80 579.40 L430.74 580.75 L430.86 582.09 L430.95 583.44 L430.80 584.80 L430.38 586.17 L429.79 587.55 L429.04 588.93 L428.10 590.30 L426.85 591.72 L425.33 593.17 L423.82 594.54 L422.60 595.70 L421.58 596.52 L420.68 597.11 L420.13 597.66 L420.20 598.40 L421.01 599.38 L422.39 600.48 L424.21 601.67 L426.30 602.90 L428.94 604.28 L432.10 605.79 L435.19 607.21 L437.60 608.30 L439.15 608.96 L440.16 609.34 L440.81 609.54 L441.30 609.70 L441.90 609.70 L442.39 609.54 L443.04 609.34 L444.05 608.96 L445.60 608.30 L448.01 607.21 L451.10 605.79 L454.26 604.28 L456.90 602.90 L458.99 601.67 L460.81 600.48 L462.19 599.38 L463.00 598.40 L463.07 597.66 L462.53 597.11 L461.62 596.52 L460.60 595.70 L459.38 594.54 L457.87 593.17 L456.35 591.72 L455.10 590.30 L454.16 588.93 L453.41 587.55 L452.82 586.17 L452.40 584.80 L452.25 583.44 L452.34 582.09 L452.46 580.75 L452.40 579.40 L452.11 578.05 L451.69 576.70 L451.18 575.35 L450.60 574.00 L449.91 572.69 L449.11 571.41 L448.28 570.08 L447.50 568.60 L446.78 566.93 L446.07 565.11 L445.40 563.24 L444.80 561.40 L444.26 559.65 L443.78 557.94 L443.36 556.15 L443.00 554.20 L442.71 551.78 L442.49 549.05 L442.32 546.54 L442.20 544.80Z" fill="#911400" stroke="#3a0800" stroke-width="0.45" stroke-linejoin="round"/>
<line x1="433.60" y1="595.70" x2="449.60" y2="595.70" stroke="#000" stroke-width="1.5" />
<path d="M488.20 506.30 L488.10 510.19 L487.96 515.80 L487.81 521.86 L487.70 527.10 L487.68 531.28 L487.71 535.04 L487.71 538.43 L487.60 541.50 L487.35 544.17 L487.01 546.44 L486.61 548.50 L486.20 550.50 L485.79 552.45 L485.35 554.26 L484.89 556.02 L484.40 557.80 L483.89 559.65 L483.34 561.52 L482.78 563.33 L482.20 565.00 L481.62 566.48 L481.02 567.81 L480.40 569.09 L479.70 570.40 L478.90 571.75 L478.01 573.10 L477.12 574.45 L476.30 575.80 L475.50 577.19 L474.70 578.61 L474.03 579.98 L473.60 581.20 L473.50 582.18 L473.66 582.99 L473.93 583.81 L474.20 584.80 L474.57 586.09 L475.06 587.55 L475.42 589.01 L475.40 590.30 L474.86 591.29 L473.96 592.11 L472.88 592.92 L471.80 593.90 L470.49 595.12 L468.93 596.49 L467.69 597.91 L467.30 599.30 L468.09 600.67 L469.72 602.06 L471.71 603.41 L473.60 604.70 L475.33 605.94 L477.13 607.14 L478.96 608.25 L480.80 609.20 L482.81 609.98 L484.95 610.63 L486.87 611.14 L488.20 611.50 L488.80 611.50 L490.13 611.14 L492.05 610.63 L494.19 609.98 L496.20 609.20 L498.04 608.25 L499.87 607.14 L501.67 605.94 L503.40 604.70 L505.29 603.41 L507.28 602.06 L508.91 600.67 L509.70 599.30 L509.31 597.91 L508.07 596.49 L506.51 595.12 L505.20 593.90 L504.12 592.92 L503.04 592.11 L502.14 591.29 L501.60 590.30 L501.58 589.01 L501.94 587.55 L502.43 586.09 L502.80 584.80 L503.07 583.81 L503.34 582.99 L503.50 582.18 L503.40 581.20 L502.97 579.98 L502.30 578.61 L501.50 577.19 L500.70 575.80 L499.88 574.45 L498.99 573.10 L498.10 571.75 L497.30 570.40 L496.60 569.09 L495.98 567.81 L495.38 566.48 L494.80 565.00 L494.22 563.33 L493.66 561.52 L493.11 559.65 L492.60 557.80 L492.11 556.02 L491.65 554.26 L491.21 552.45 L490.80 550.50 L490.39 548.50 L489.99 546.44 L489.65 544.17 L489.40 541.50 L489.29 538.43 L489.29 535.04 L489.32 531.28 L489.30 527.10 L489.19 521.86 L489.04 515.80 L488.90 510.19 L488.80 506.30Z" fill="#0b4f92" stroke="#06284a" stroke-width="0.45" stroke-linejoin="round"/>
<line x1="480.50" y1="590.40" x2="496.50" y2="590.40" stroke="#000" stroke-width="1.5" />
<path d="M441.60 459.90V458.60H488.50V459.90" fill="none" stroke="#6e6e6e" stroke-width="0.5"/>
<text x="465.05" y="456.80" font-size="6.6" text-anchor="middle" fill="#000" stroke="#000" >p = 0.026</text>
<path d="M394.50 480.90V479.60H488.50V480.90" fill="none" stroke="#6e6e6e" stroke-width="0.5"/>
<text x="441.50" y="477.80" font-size="6.6" text-anchor="middle" fill="#000" stroke="#000" >p = 0.582</text>
<path d="M394.50 502.00V500.70H441.60V502.00" fill="none" stroke="#6e6e6e" stroke-width="0.5"/>
<text x="418.05" y="498.90" font-size="6.6" text-anchor="middle" fill="#000" stroke="#000" >p = 0.255</text>
<line x1="366.50" y1="451.00" x2="366.50" y2="619.30" stroke="#555555" stroke-width="0.6" />
<line x1="366.20" y1="619.50" x2="514.70" y2="619.50" stroke="#555555" stroke-width="0.6" />
<line x1="363.80" y1="615.90" x2="366.30" y2="615.90" stroke="#333" stroke-width="0.65" />
<text x="362.90" y="617.70" font-size="5.0" text-anchor="end" fill="#333333" >−0.5</text>
<line x1="363.80" y1="581.20" x2="366.30" y2="581.20" stroke="#333" stroke-width="0.65" />
<text x="362.90" y="583.00" font-size="5.0" text-anchor="end" fill="#333333" >0.0</text>
<line x1="363.80" y1="546.50" x2="366.30" y2="546.50" stroke="#333" stroke-width="0.65" />
<text x="362.90" y="548.30" font-size="5.0" text-anchor="end" fill="#333333" >0.5</text>
<line x1="363.80" y1="511.80" x2="366.30" y2="511.80" stroke="#333" stroke-width="0.65" />
<text x="362.90" y="513.60" font-size="5.0" text-anchor="end" fill="#333333" >1.0</text>
<line x1="363.80" y1="477.10" x2="366.30" y2="477.10" stroke="#333" stroke-width="0.65" />
<text x="362.90" y="478.90" font-size="5.0" text-anchor="end" fill="#333333" >1.5</text>
<line x1="394.50" y1="619.00" x2="394.50" y2="621.60" stroke="#333" stroke-width="0.65" />
<line x1="441.60" y1="619.00" x2="441.60" y2="621.60" stroke="#333" stroke-width="0.65" />
<line x1="488.50" y1="619.00" x2="488.50" y2="621.60" stroke="#333" stroke-width="0.65" />
<text x="394.50" y="627.80" font-size="6.8" text-anchor="middle" fill="#262626" stroke="#262626" >HIV−</text>
<text x="441.60" y="627.80" font-size="6.8" text-anchor="middle" fill="#262626" stroke="#262626" >PLHIV</text>
<text x="441.60" y="634.80" font-size="6.8" text-anchor="middle" fill="#262626" stroke="#262626" >ART&lt;3m</text>
<text x="488.50" y="627.80" font-size="6.8" text-anchor="middle" fill="#262626" stroke="#262626" >PLHIV</text>
<text x="488.50" y="634.80" font-size="6.8" text-anchor="middle" fill="#262626" stroke="#262626" >ART&gt;1yr</text>
<text x="440.50" y="448.00" font-size="6.8" text-anchor="middle" fill="#000" stroke="#000" >Intrinsic apoptosis genes</text>
<text transform="translate(350.10,535.10) rotate(-90)" font-size="6.8" text-anchor="middle" fill="#000" stroke="#000">Module Expression</text>
<path d="M560.90 506.10 L560.91 512.86 L560.93 522.72 L560.92 532.74 L560.85 540.00 L560.65 543.40 L560.37 544.60 L560.11 544.83 L560.00 545.30 L560.12 545.89 L560.38 546.11 L560.67 546.59 L560.85 548.00 L560.89 550.92 L560.86 554.87 L560.79 558.88 L560.70 562.00 L560.61 563.88 L560.50 565.08 L560.36 565.93 L560.20 566.80 L559.98 567.68 L559.72 568.42 L559.47 569.15 L559.30 570.00 L559.22 571.03 L559.19 572.17 L559.22 573.33 L559.30 574.40 L559.50 575.34 L559.81 576.22 L560.08 577.08 L560.20 578.00 L560.07 578.98 L559.79 580.00 L559.48 581.04 L559.30 582.10 L559.28 583.19 L559.34 584.32 L559.46 585.44 L559.60 586.50 L559.82 587.48 L560.12 588.41 L560.36 589.34 L560.40 590.30 L560.26 591.35 L559.99 592.46 L559.51 593.53 L558.70 594.50 L557.60 595.28 L556.24 595.94 L554.53 596.60 L552.40 597.40 L549.08 598.42 L544.86 599.57 L541.24 600.74 L539.70 601.80 L541.25 602.70 L544.89 603.52 L549.11 604.30 L552.40 605.10 L554.41 605.97 L555.93 606.88 L557.13 607.72 L558.20 608.40 L559.16 608.88 L559.91 609.21 L560.49 609.43 L560.90 609.60 L561.50 609.60 L561.91 609.43 L562.49 609.21 L563.24 608.88 L564.20 608.40 L565.27 607.72 L566.48 606.88 L567.99 605.97 L570.00 605.10 L573.29 604.30 L577.51 603.52 L581.15 602.70 L582.70 601.80 L581.16 600.74 L577.54 599.57 L573.32 598.42 L570.00 597.40 L567.87 596.60 L566.16 595.94 L564.80 595.28 L563.70 594.50 L562.89 593.53 L562.41 592.46 L562.14 591.35 L562.00 590.30 L562.04 589.34 L562.28 588.41 L562.58 587.48 L562.80 586.50 L562.94 585.44 L563.06 584.32 L563.12 583.19 L563.10 582.10 L562.92 581.04 L562.61 580.00 L562.33 578.98 L562.20 578.00 L562.32 577.08 L562.59 576.22 L562.90 575.34 L563.10 574.40 L563.18 573.33 L563.21 572.17 L563.18 571.03 L563.10 570.00 L562.93 569.15 L562.68 568.42 L562.42 567.68 L562.20 566.80 L562.04 565.93 L561.90 565.08 L561.79 563.88 L561.70 562.00 L561.61 558.88 L561.54 554.87 L561.51 550.92 L561.55 548.00 L561.73 546.59 L562.02 546.11 L562.28 545.89 L562.40 545.30 L562.29 544.83 L562.03 544.60 L561.75 543.40 L561.55 540.00 L561.48 532.74 L561.47 522.72 L561.49 512.86 L561.50 506.10Z" fill="#b3b3b3" stroke="#5e5e5e" stroke-width="0.45" stroke-linejoin="round"/>
<line x1="553.20" y1="602.90" x2="569.20" y2="602.90" stroke="#000" stroke-width="1.5" />
<path d="M607.60 562.80 L607.34 562.85 L606.97 562.90 L606.56 563.03 L606.20 563.30 L605.89 563.67 L605.59 564.12 L605.32 564.76 L605.10 565.70 L604.92 567.01 L604.77 568.61 L604.69 570.40 L604.70 572.30 L604.91 574.32 L605.28 576.51 L605.61 578.77 L605.70 581.00 L605.60 583.30 L605.39 585.67 L604.90 587.91 L604.00 589.80 L602.49 591.21 L600.51 592.28 L598.37 593.21 L596.40 594.20 L594.59 595.31 L592.79 596.42 L591.15 597.50 L589.80 598.50 L588.70 599.40 L587.79 600.21 L587.24 601.00 L587.20 601.80 L587.84 602.60 L589.03 603.39 L590.51 604.21 L592.00 605.10 L593.43 606.18 L594.95 607.39 L596.62 608.51 L598.50 609.30 L600.91 609.64 L603.71 609.66 L606.30 609.56 L608.10 609.50 L608.70 609.50 L610.50 609.56 L613.09 609.66 L615.89 609.64 L618.30 609.30 L620.18 608.51 L621.85 607.39 L623.37 606.18 L624.80 605.10 L626.29 604.21 L627.77 603.39 L628.96 602.60 L629.60 601.80 L629.56 601.00 L629.01 600.21 L628.10 599.40 L627.00 598.50 L625.65 597.50 L624.01 596.42 L622.21 595.31 L620.40 594.20 L618.43 593.21 L616.29 592.28 L614.31 591.21 L612.80 589.80 L611.90 587.91 L611.41 585.67 L611.20 583.30 L611.10 581.00 L611.19 578.77 L611.52 576.51 L611.89 574.32 L612.10 572.30 L612.11 570.40 L612.03 568.61 L611.88 567.01 L611.70 565.70 L611.48 564.76 L611.21 564.12 L610.91 563.67 L610.60 563.30 L610.24 563.03 L609.83 562.90 L609.46 562.85 L609.20 562.80Z" fill="#911400" stroke="#3a0800" stroke-width="0.45" stroke-linejoin="round"/>
<line x1="600.40" y1="602.30" x2="616.40" y2="602.30" stroke="#000" stroke-width="1.5" />
<path d="M655.10 546.00 L655.05 547.96 L654.98 550.76 L654.87 553.91 L654.70 556.90 L654.44 559.72 L654.11 562.61 L653.78 565.39 L653.50 567.90 L653.27 570.09 L653.06 572.04 L652.92 573.83 L652.90 575.50 L653.07 576.89 L653.38 578.04 L653.73 579.29 L654.00 581.00 L654.34 583.49 L654.74 586.51 L654.90 589.51 L654.50 592.00 L653.49 593.77 L652.01 595.11 L650.11 596.25 L647.80 597.40 L644.34 598.61 L639.97 599.76 L636.19 600.83 L634.50 601.80 L635.91 602.61 L639.41 603.29 L643.50 603.95 L646.70 604.70 L648.67 605.59 L650.19 606.56 L651.42 607.52 L652.50 608.40 L653.46 609.23 L654.21 610.03 L654.79 610.72 L655.20 611.20 L655.80 611.20 L656.21 610.72 L656.79 610.03 L657.54 609.23 L658.50 608.40 L659.58 607.52 L660.81 606.56 L662.33 605.59 L664.30 604.70 L667.50 603.95 L671.59 603.29 L675.09 602.61 L676.50 601.80 L674.81 600.83 L671.03 599.76 L666.66 598.61 L663.20 597.40 L660.89 596.25 L658.99 595.11 L657.51 593.77 L656.50 592.00 L656.10 589.51 L656.26 586.51 L656.66 583.49 L657.00 581.00 L657.27 579.29 L657.62 578.04 L657.93 576.89 L658.10 575.50 L658.08 573.83 L657.94 572.04 L657.73 570.09 L657.50 567.90 L657.22 565.39 L656.89 562.61 L656.56 559.72 L656.30 556.90 L656.13 553.91 L656.02 550.76 L655.95 547.96 L655.90 546.00Z" fill="#0b4f92" stroke="#06284a" stroke-width="0.45" stroke-linejoin="round"/>
<line x1="647.50" y1="603.40" x2="663.50" y2="603.40" stroke="#000" stroke-width="1.5" />
<path d="M608.40 459.90V458.60H655.50V459.90" fill="none" stroke="#6e6e6e" stroke-width="0.5"/>
<text x="631.95" y="456.80" font-size="6.6" text-anchor="middle" fill="#000" stroke="#000" >p = 0.281</text>
<path d="M561.20 480.90V479.60H655.50V480.90" fill="none" stroke="#6e6e6e" stroke-width="0.5"/>
<text x="608.35" y="477.80" font-size="6.6" text-anchor="middle" fill="#000" stroke="#000" >p = 0.927</text>
<path d="M561.20 502.00V500.70H608.40V502.00" fill="none" stroke="#6e6e6e" stroke-width="0.5"/>
<text x="584.80" y="498.90" font-size="6.6" text-anchor="middle" fill="#000" stroke="#000" >p = 0.558</text>
<line x1="533.50" y1="451.00" x2="533.50" y2="619.30" stroke="#555555" stroke-width="0.6" />
<line x1="533.20" y1="619.50" x2="679.70" y2="619.50" stroke="#555555" stroke-width="0.6" />
<line x1="530.90" y1="595.40" x2="533.40" y2="595.40" stroke="#333" stroke-width="0.65" />
<text x="530.00" y="597.20" font-size="5.0" text-anchor="end" fill="#333333" >0</text>
<line x1="530.90" y1="543.90" x2="533.40" y2="543.90" stroke="#333" stroke-width="0.65" />
<text x="530.00" y="545.70" font-size="5.0" text-anchor="end" fill="#333333" >1</text>
<line x1="530.90" y1="492.40" x2="533.40" y2="492.40" stroke="#333" stroke-width="0.65" />
<text x="530.00" y="494.20" font-size="5.0" text-anchor="end" fill="#333333" >2</text>
<line x1="561.20" y1="619.00" x2="561.20" y2="621.60" stroke="#333" stroke-width="0.65" />
<line x1="608.40" y1="619.00" x2="608.40" y2="621.60" stroke="#333" stroke-width="0.65" />
<line x1="655.50" y1="619.00" x2="655.50" y2="621.60" stroke="#333" stroke-width="0.65" />
<text x="561.20" y="627.80" font-size="6.8" text-anchor="middle" fill="#262626" stroke="#262626" >HIV−</text>
<text x="608.40" y="627.80" font-size="6.8" text-anchor="middle" fill="#262626" stroke="#262626" >PLHIV</text>
<text x="608.40" y="634.80" font-size="6.8" text-anchor="middle" fill="#262626" stroke="#262626" >ART&lt;3m</text>
<text x="655.50" y="627.80" font-size="6.8" text-anchor="middle" fill="#262626" stroke="#262626" >PLHIV</text>
<text x="655.50" y="634.80" font-size="6.8" text-anchor="middle" fill="#262626" stroke="#262626" >ART&gt;1yr</text>
<text x="606.55" y="448.00" font-size="6.8" text-anchor="middle" fill="#000" stroke="#000" >Extrinsic apoptosis genes</text>
<text transform="translate(525.10,535.10) rotate(-90)" font-size="6.8" text-anchor="middle" fill="#000" stroke="#000">Module Expression</text>
<text x="6.50" y="11.20" font-size="13" text-anchor="start" fill="#000" stroke="#000" font-weight="bold" >a.</text>
<text x="235.50" y="11.20" font-size="13" text-anchor="start" fill="#000" stroke="#000" font-weight="bold" >b.</text>
<text x="461.50" y="11.20" font-size="13" text-anchor="start" fill="#000" stroke="#000" font-weight="bold" >c.</text>
<text x="16.50" y="224.00" font-size="13" text-anchor="start" fill="#000" stroke="#000" font-weight="bold" >d.</text>
<text x="237.70" y="224.00" font-size="13" text-anchor="start" fill="#000" stroke="#000" font-weight="bold" >e.</text>
<text x="493.00" y="224.00" font-size="13" text-anchor="start" fill="#000" stroke="#000" font-weight="bold" >f.</text>
<text x="10.90" y="439.20" font-size="13" text-anchor="start" fill="#000" stroke="#000" font-weight="bold" >g.</text>
<text x="178.60" y="439.20" font-size="13" text-anchor="start" fill="#000" stroke="#000" font-weight="bold" >h.</text>
<text x="352.30" y="439.20" font-size="13" text-anchor="start" fill="#000" stroke="#000" font-weight="bold" >i.</text>
<text x="517.60" y="439.20" font-size="13" text-anchor="start" fill="#000" stroke="#000" font-weight="bold" >j.</text>
</svg></body></html>
